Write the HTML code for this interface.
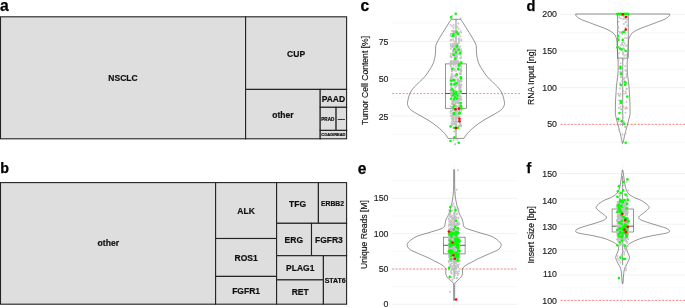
<!DOCTYPE html>
<html lang="en"><head><meta charset="utf-8"><title>Figure</title>
<style>html,body{margin:0;padding:0;background:#fff;}body{width:685px;height:308px;overflow:hidden;}svg{display:block;}text{font-family:"Liberation Sans", Arial, Helvetica, sans-serif;filter:grayscale(1);}.pl{font-weight:bold;font-size:15.8px;fill:#000;stroke:#000;stroke-width:0.25;}.tm rect{fill:#dedede;stroke:#222;stroke-width:1.1;}.tl{font-weight:bold;fill:#111;text-anchor:middle;stroke:#111;stroke-width:0.2;}.gM{stroke:#ebebeb;stroke-width:0.7;}.gm{stroke:#f2f2f2;stroke-width:0.5;}.ax{font-size:8.8px;fill:#1c1c1c;text-anchor:end;stroke:#1c1c1c;stroke-width:0.15;}.at{font-size:8.6px;fill:#111;text-anchor:middle;stroke:#111;stroke-width:0.15;}.vio{fill:none;stroke:#3a3a3a;stroke-width:0.55;}.box{fill:none;stroke:#6a6a6a;stroke-width:0.7;}.thr{stroke:#ff1a1a;stroke-width:0.5;stroke-dasharray:1.9 1.6;}.dg{fill:#c0c0c0;fill-opacity:0.92;}.gr{fill:#00ff00;}.rd{fill:#ff0000;}</style></head><body>
<svg width="685" height="308" viewBox="0 0 685 308">
<rect x="0" y="0" width="685" height="308" fill="#fff"/>
<text class="pl" x="0.0" y="10.5" style="font-size:15.6px">a</text>
<text class="pl" x="0.3" y="173.2" style="font-size:14.3px">b</text>
<text class="pl" x="360.4" y="10.5" style="font-size:15.6px">c</text>
<text class="pl" x="526.5" y="10.5" style="font-size:14.6px">d</text>
<text class="pl" x="357.8" y="173.5" style="font-size:15.6px">e</text>
<text class="pl" x="526.6" y="173.0" style="font-size:14.3px">f</text>
<g class="tm">
<rect x="0.5" y="16.8" width="245.1" height="122.0"/>
<rect x="245.6" y="16.8" width="101.0" height="72.6"/>
<rect x="245.6" y="89.4" width="74.6" height="49.4"/>
<rect x="320.2" y="89.4" width="26.4" height="17.9"/>
<rect x="320.2" y="107.3" width="15.9" height="23.1"/>
<rect x="336.1" y="107.3" width="10.5" height="23.1"/>
<rect x="320.2" y="130.4" width="26.4" height="8.4"/>
</g>
<text class="tl" x="123.0" y="81.3" font-size="8.5">NSCLC</text>
<text class="tl" x="296.1" y="56.6" font-size="8.5">CUP</text>
<text class="tl" x="282.9" y="117.9" font-size="8.5">other</text>
<text class="tl" x="333.4" y="101.9" font-size="8.5">PAAD</text>
<text class="tl" x="327.8" y="120.9" font-size="4.6">PRAD</text>
<text class="tl" x="341.4" y="119.8" font-size="1.6">OVARIAN</text>
<text class="tl" x="333.4" y="136.4" font-size="4.0">COAD/READ</text>
<g class="tm">
<rect x="0.5" y="182.6" width="215.1" height="121.6"/>
<rect x="215.6" y="182.6" width="61.0" height="55.9"/>
<rect x="215.6" y="238.5" width="61.0" height="37.9"/>
<rect x="215.6" y="276.4" width="61.0" height="27.8"/>
<rect x="276.6" y="182.6" width="41.8" height="40.7"/>
<rect x="318.4" y="182.6" width="28.2" height="40.7"/>
<rect x="276.6" y="223.3" width="34.9" height="32.4"/>
<rect x="311.5" y="223.3" width="35.1" height="32.4"/>
<rect x="276.6" y="255.7" width="46.8" height="24.2"/>
<rect x="276.6" y="279.9" width="46.8" height="24.3"/>
<rect x="323.4" y="255.7" width="23.2" height="48.5"/>
</g>
<text class="tl" x="108.3" y="245.7" font-size="8.6">other</text>
<text class="tl" x="246.1" y="214.1" font-size="8.5">ALK</text>
<text class="tl" x="246.1" y="260.7" font-size="8.5">ROS1</text>
<text class="tl" x="246.1" y="294.0" font-size="8.5">FGFR1</text>
<text class="tl" x="297.5" y="206.5" font-size="8.5">TFG</text>
<text class="tl" x="332.5" y="205.9" font-size="6.8">ERBB2</text>
<text class="tl" x="293.8" y="242.8" font-size="8.5">ERG</text>
<text class="tl" x="328.9" y="242.8" font-size="8.5">FGFR3</text>
<text class="tl" x="300.2" y="271.3" font-size="8.5">PLAG1</text>
<text class="tl" x="300.2" y="295.4" font-size="8.5">RET</text>
<text class="tl" x="335.2" y="282.6" font-size="7.0">STAT6</text>
<g id="pc">
<line class="gm" x1="391.8" x2="520.0" y1="22.83" y2="22.83"/>
<line class="gm" x1="391.8" x2="520.0" y1="60.08" y2="60.08"/>
<line class="gm" x1="391.8" x2="520.0" y1="97.33" y2="97.33"/>
<line class="gm" x1="391.8" x2="520.0" y1="134.57" y2="134.57"/>
<line class="gM" x1="391.8" x2="520.0" y1="41.45" y2="41.45"/>
<line class="gM" x1="391.8" x2="520.0" y1="78.70" y2="78.70"/>
<line class="gM" x1="391.8" x2="520.0" y1="115.95" y2="115.95"/>
<line class="gM" style="stroke:#f0f0f0" x1="456.00" x2="456.00" y1="7.0" y2="150.2"/>
<text class="ax" x="388.5" y="45.20">75</text>
<text class="ax" x="388.5" y="82.45">50</text>
<text class="ax" x="388.5" y="119.70">25</text>
<text class="at" transform="translate(367.8 80.4) rotate(-90)">Tumor Cell Content [%]</text>
<path class="vio" d="M451.20 19.30 C450.60 20.25 448.83 23.05 447.60 25.00 C446.37 26.95 445.10 28.92 443.80 31.00 C442.50 33.08 440.97 35.50 439.80 37.50 C438.63 39.50 437.48 41.50 436.80 43.00 C436.12 44.50 435.93 44.67 435.70 46.50 C435.47 48.33 435.75 51.33 435.40 54.00 C435.05 56.67 434.58 59.83 433.60 62.50 C432.62 65.17 431.02 67.58 429.50 70.00 C427.98 72.42 426.17 75.00 424.50 77.00 C422.83 79.00 421.20 80.33 419.50 82.00 C417.80 83.67 415.77 85.33 414.30 87.00 C412.83 88.67 411.62 90.42 410.70 92.00 C409.78 93.58 409.33 94.58 408.80 96.50 C408.27 98.42 407.52 101.75 407.50 103.50 C407.48 105.25 408.05 105.87 408.70 107.00 C409.35 108.13 409.68 108.97 411.40 110.30 C413.12 111.63 416.03 113.26 419.00 115.00 C421.97 116.74 426.07 118.75 429.20 120.75 C432.33 122.75 435.25 124.92 437.80 127.00 C440.35 129.08 442.78 131.35 444.50 133.25 C446.22 135.15 447.50 137.54 448.10 138.40 L463.90 138.40 C464.50 137.54 465.78 135.15 467.50 133.25 C469.22 131.35 471.65 129.08 474.20 127.00 C476.75 124.92 479.67 122.75 482.80 120.75 C485.93 118.75 490.03 116.74 493.00 115.00 C495.97 113.26 498.88 111.63 500.60 110.30 C502.32 108.97 502.65 108.13 503.30 107.00 C503.95 105.87 504.52 105.25 504.50 103.50 C504.48 101.75 503.73 98.42 503.20 96.50 C502.67 94.58 502.22 93.58 501.30 92.00 C500.38 90.42 499.17 88.67 497.70 87.00 C496.23 85.33 494.20 83.67 492.50 82.00 C490.80 80.33 489.17 79.00 487.50 77.00 C485.83 75.00 484.02 72.42 482.50 70.00 C480.98 67.58 479.38 65.17 478.40 62.50 C477.42 59.83 476.95 56.67 476.60 54.00 C476.25 51.33 476.53 48.33 476.30 46.50 C476.07 44.67 475.88 44.50 475.20 43.00 C474.52 41.50 473.37 39.50 472.20 37.50 C471.03 35.50 469.50 33.08 468.20 31.00 C466.90 28.92 465.63 26.95 464.40 25.00 C463.17 23.05 461.40 20.25 460.80 19.30 Z"/>
<line class="thr" x1="392.1" x2="520.0" y1="93.60" y2="93.60"/>
<line class="box" x1="456.00" x2="456.00" y1="19.30" y2="63.90"/>
<line class="box" x1="456.00" x2="456.00" y1="108.30" y2="138.40"/>
<rect class="box" x="445.40" y="63.90" width="21.10" height="44.40"/>
<line class="box" style="stroke:#3c3c3c;stroke-width:0.85" x1="445.40" x2="466.50" y1="93.50" y2="93.50"/>
<circle class="dg" cx="457.7" cy="68.9" r="0.95"/>
<circle class="dg" cx="454.5" cy="41.7" r="0.95"/>
<circle class="dg" cx="450.8" cy="34.0" r="0.95"/>
<circle class="dg" cx="451.4" cy="75.9" r="0.95"/>
<circle class="dg" cx="451.8" cy="80.9" r="0.95"/>
<circle class="dg" cx="461.0" cy="57.2" r="0.95"/>
<circle class="dg" cx="461.3" cy="92.9" r="0.95"/>
<circle class="dg" cx="453.6" cy="36.4" r="0.95"/>
<circle class="dg" cx="453.9" cy="46.4" r="0.95"/>
<circle class="dg" cx="456.9" cy="106.4" r="0.95"/>
<circle class="dg" cx="456.5" cy="92.8" r="0.95"/>
<circle class="dg" cx="452.7" cy="31.1" r="0.95"/>
<circle class="dg" cx="453.9" cy="100.6" r="0.95"/>
<circle class="dg" cx="453.8" cy="93.3" r="0.95"/>
<circle class="dg" cx="453.1" cy="109.8" r="0.95"/>
<circle class="dg" cx="460.2" cy="93.8" r="0.95"/>
<circle class="dg" cx="461.4" cy="99.7" r="0.95"/>
<circle class="dg" cx="458.9" cy="40.9" r="0.95"/>
<circle class="dg" cx="450.8" cy="48.8" r="0.95"/>
<circle class="dg" cx="456.8" cy="102.8" r="0.95"/>
<circle class="dg" cx="458.2" cy="114.7" r="0.95"/>
<circle class="dg" cx="455.5" cy="94.1" r="0.95"/>
<circle class="dg" cx="455.7" cy="118.9" r="0.95"/>
<circle class="dg" cx="458.3" cy="98.2" r="0.95"/>
<circle class="dg" cx="459.6" cy="96.9" r="0.95"/>
<circle class="dg" cx="457.9" cy="63.0" r="0.95"/>
<circle class="dg" cx="452.3" cy="26.3" r="0.95"/>
<circle class="dg" cx="459.0" cy="38.5" r="0.95"/>
<circle class="dg" cx="454.8" cy="47.2" r="0.95"/>
<circle class="dg" cx="455.4" cy="113.2" r="0.95"/>
<circle class="dg" cx="459.6" cy="88.7" r="0.95"/>
<circle class="dg" cx="455.1" cy="114.5" r="0.95"/>
<circle class="dg" cx="461.1" cy="73.8" r="0.95"/>
<circle class="dg" cx="453.0" cy="46.8" r="0.95"/>
<circle class="dg" cx="457.0" cy="56.3" r="0.95"/>
<circle class="dg" cx="455.1" cy="60.5" r="0.95"/>
<circle class="dg" cx="461.1" cy="71.7" r="0.95"/>
<circle class="dg" cx="457.3" cy="101.2" r="0.95"/>
<circle class="dg" cx="460.5" cy="98.1" r="0.95"/>
<circle class="dg" cx="459.3" cy="111.0" r="0.95"/>
<circle class="dg" cx="451.6" cy="70.6" r="0.95"/>
<circle class="dg" cx="451.2" cy="90.7" r="0.95"/>
<circle class="dg" cx="454.2" cy="54.1" r="0.95"/>
<circle class="dg" cx="452.1" cy="30.7" r="0.95"/>
<circle class="dg" cx="450.7" cy="40.5" r="0.95"/>
<circle class="dg" cx="452.1" cy="116.7" r="0.95"/>
<circle class="dg" cx="454.5" cy="62.8" r="0.95"/>
<circle class="dg" cx="461.5" cy="51.2" r="0.95"/>
<circle class="dg" cx="451.4" cy="78.6" r="0.95"/>
<circle class="dg" cx="453.4" cy="40.4" r="0.95"/>
<circle class="dg" cx="450.7" cy="106.3" r="0.95"/>
<circle class="dg" cx="452.0" cy="123.6" r="0.95"/>
<circle class="dg" cx="456.3" cy="83.0" r="0.95"/>
<circle class="dg" cx="458.2" cy="125.8" r="0.95"/>
<circle class="dg" cx="452.3" cy="62.9" r="0.95"/>
<circle class="dg" cx="459.1" cy="108.7" r="0.95"/>
<circle class="dg" cx="459.5" cy="69.4" r="0.95"/>
<circle class="dg" cx="459.4" cy="125.7" r="0.95"/>
<circle class="dg" cx="452.9" cy="110.1" r="0.95"/>
<circle class="dg" cx="450.7" cy="85.2" r="0.95"/>
<circle class="dg" cx="453.3" cy="32.5" r="0.95"/>
<circle class="dg" cx="455.4" cy="104.1" r="0.95"/>
<circle class="dg" cx="461.1" cy="126.6" r="0.95"/>
<circle class="dg" cx="452.9" cy="69.4" r="0.95"/>
<circle class="dg" cx="457.4" cy="54.4" r="0.95"/>
<circle class="dg" cx="455.8" cy="118.2" r="0.95"/>
<circle class="dg" cx="451.3" cy="95.6" r="0.95"/>
<circle class="dg" cx="459.2" cy="103.8" r="0.95"/>
<circle class="dg" cx="452.4" cy="100.9" r="0.95"/>
<circle class="dg" cx="459.4" cy="107.4" r="0.95"/>
<circle class="dg" cx="454.9" cy="122.7" r="0.95"/>
<circle class="dg" cx="452.3" cy="124.9" r="0.95"/>
<circle class="dg" cx="460.5" cy="46.6" r="0.95"/>
<circle class="dg" cx="459.7" cy="106.2" r="0.95"/>
<circle class="dg" cx="454.3" cy="124.4" r="0.95"/>
<circle class="dg" cx="450.6" cy="83.7" r="0.95"/>
<circle class="dg" cx="456.3" cy="124.4" r="0.95"/>
<circle class="dg" cx="460.2" cy="123.0" r="0.95"/>
<circle class="dg" cx="453.2" cy="106.6" r="0.95"/>
<circle class="dg" cx="457.0" cy="62.1" r="0.95"/>
<circle class="dg" cx="451.9" cy="63.3" r="0.95"/>
<circle class="dg" cx="455.5" cy="115.0" r="0.95"/>
<circle class="dg" cx="455.1" cy="96.3" r="0.95"/>
<circle class="dg" cx="456.4" cy="116.0" r="0.95"/>
<circle class="dg" cx="455.3" cy="83.0" r="0.95"/>
<circle class="dg" cx="459.4" cy="53.1" r="0.95"/>
<circle class="dg" cx="458.5" cy="48.7" r="0.95"/>
<circle class="dg" cx="456.2" cy="85.0" r="0.95"/>
<circle class="dg" cx="451.6" cy="88.0" r="0.95"/>
<circle class="dg" cx="453.5" cy="84.5" r="0.95"/>
<circle class="dg" cx="456.7" cy="108.6" r="0.95"/>
<circle class="dg" cx="455.4" cy="111.2" r="0.95"/>
<circle class="dg" cx="456.1" cy="93.6" r="0.95"/>
<circle class="dg" cx="456.4" cy="100.7" r="0.95"/>
<circle class="dg" cx="458.2" cy="81.6" r="0.95"/>
<circle class="dg" cx="453.3" cy="118.9" r="0.95"/>
<circle class="dg" cx="459.8" cy="89.1" r="0.95"/>
<circle class="dg" cx="455.4" cy="46.4" r="0.95"/>
<circle class="dg" cx="451.2" cy="39.7" r="0.95"/>
<circle class="dg" cx="460.4" cy="102.9" r="0.95"/>
<circle class="dg" cx="457.8" cy="50.3" r="0.95"/>
<circle class="dg" cx="461.2" cy="51.4" r="0.95"/>
<circle class="dg" cx="454.9" cy="59.3" r="0.95"/>
<circle class="dg" cx="459.7" cy="89.4" r="0.95"/>
<circle class="dg" cx="456.2" cy="48.4" r="0.95"/>
<circle class="dg" cx="454.0" cy="69.2" r="0.95"/>
<circle class="dg" cx="456.6" cy="97.9" r="0.95"/>
<circle class="dg" cx="454.1" cy="75.5" r="0.95"/>
<circle class="dg" cx="451.1" cy="93.7" r="0.95"/>
<circle class="dg" cx="461.3" cy="125.3" r="0.95"/>
<circle class="dg" cx="450.8" cy="39.9" r="0.95"/>
<circle class="dg" cx="451.9" cy="107.0" r="0.95"/>
<circle class="dg" cx="459.6" cy="81.4" r="0.95"/>
<circle class="dg" cx="460.7" cy="61.5" r="0.95"/>
<circle class="dg" cx="451.4" cy="94.9" r="0.95"/>
<circle class="dg" cx="455.2" cy="35.2" r="0.95"/>
<circle class="dg" cx="457.5" cy="44.3" r="0.95"/>
<circle class="dg" cx="460.0" cy="105.8" r="0.95"/>
<circle class="dg" cx="455.5" cy="36.4" r="0.95"/>
<circle class="dg" cx="460.8" cy="71.6" r="0.95"/>
<circle class="dg" cx="456.3" cy="61.4" r="0.95"/>
<circle class="dg" cx="452.2" cy="53.8" r="0.95"/>
<circle class="dg" cx="453.9" cy="32.0" r="0.95"/>
<circle class="dg" cx="453.6" cy="65.5" r="0.95"/>
<circle class="dg" cx="454.3" cy="84.0" r="0.95"/>
<circle class="dg" cx="450.6" cy="24.9" r="0.95"/>
<circle class="dg" cx="452.5" cy="101.4" r="0.95"/>
<circle class="dg" cx="451.6" cy="81.6" r="0.95"/>
<circle class="dg" cx="455.9" cy="108.1" r="0.95"/>
<circle class="dg" cx="456.1" cy="107.8" r="0.95"/>
<circle class="dg" cx="454.2" cy="104.2" r="0.95"/>
<circle class="dg" cx="457.5" cy="109.9" r="0.95"/>
<circle class="dg" cx="451.0" cy="77.7" r="0.95"/>
<circle class="dg" cx="458.7" cy="46.1" r="0.95"/>
<circle class="dg" cx="451.3" cy="61.6" r="0.95"/>
<circle class="dg" cx="457.9" cy="118.4" r="0.95"/>
<circle class="dg" cx="453.7" cy="62.1" r="0.95"/>
<circle class="dg" cx="455.4" cy="76.4" r="0.95"/>
<circle class="dg" cx="461.3" cy="66.8" r="0.95"/>
<circle class="dg" cx="461.2" cy="84.5" r="0.95"/>
<circle class="dg" cx="450.4" cy="62.9" r="0.95"/>
<circle class="dg" cx="456.0" cy="71.1" r="0.95"/>
<circle class="dg" cx="450.5" cy="56.4" r="0.95"/>
<circle class="dg" cx="454.9" cy="61.1" r="0.95"/>
<circle class="dg" cx="453.8" cy="30.8" r="0.95"/>
<circle class="dg" cx="456.3" cy="56.9" r="0.95"/>
<circle class="dg" cx="458.4" cy="102.1" r="0.95"/>
<circle class="dg" cx="454.1" cy="115.2" r="0.95"/>
<circle class="dg" cx="458.5" cy="121.1" r="0.95"/>
<circle class="dg" cx="459.8" cy="90.6" r="0.95"/>
<circle class="dg" cx="458.6" cy="116.8" r="0.95"/>
<circle class="dg" cx="456.3" cy="106.1" r="0.95"/>
<circle class="dg" cx="459.4" cy="88.4" r="0.95"/>
<circle class="dg" cx="460.4" cy="109.1" r="0.95"/>
<circle class="dg" cx="453.0" cy="102.3" r="0.95"/>
<circle class="dg" cx="454.4" cy="31.6" r="0.95"/>
<circle class="dg" cx="456.7" cy="43.7" r="0.95"/>
<circle class="dg" cx="458.0" cy="94.4" r="0.95"/>
<circle class="dg" cx="459.3" cy="82.9" r="0.95"/>
<circle class="dg" cx="456.4" cy="101.1" r="0.95"/>
<circle class="dg" cx="458.7" cy="90.7" r="0.95"/>
<circle class="dg" cx="453.4" cy="61.0" r="0.95"/>
<circle class="dg" cx="458.7" cy="99.1" r="0.95"/>
<circle class="dg" cx="454.7" cy="123.4" r="0.95"/>
<circle class="dg" cx="459.0" cy="87.4" r="0.95"/>
<circle class="dg" cx="451.3" cy="94.5" r="0.95"/>
<circle class="dg" cx="458.7" cy="47.3" r="0.95"/>
<circle class="dg" cx="450.5" cy="64.2" r="0.95"/>
<circle class="dg" cx="457.9" cy="32.5" r="0.95"/>
<circle class="dg" cx="453.7" cy="102.2" r="0.95"/>
<circle class="dg" cx="455.6" cy="85.9" r="0.95"/>
<circle class="dg" cx="452.6" cy="44.0" r="0.95"/>
<circle class="dg" cx="450.6" cy="126.3" r="0.95"/>
<circle class="dg" cx="461.2" cy="80.8" r="0.95"/>
<circle class="dg" cx="452.8" cy="77.2" r="0.95"/>
<circle class="dg" cx="456.9" cy="121.5" r="0.95"/>
<circle class="dg" cx="461.1" cy="49.1" r="0.95"/>
<circle class="dg" cx="456.1" cy="51.0" r="0.95"/>
<circle class="dg" cx="453.0" cy="117.3" r="0.95"/>
<circle class="dg" cx="450.7" cy="115.9" r="0.95"/>
<circle class="dg" cx="455.4" cy="26.5" r="0.95"/>
<circle class="dg" cx="454.3" cy="61.4" r="0.95"/>
<circle class="dg" cx="450.4" cy="66.0" r="0.95"/>
<circle class="dg" cx="451.7" cy="103.3" r="0.95"/>
<circle class="dg" cx="460.5" cy="124.8" r="0.95"/>
<circle class="dg" cx="454.8" cy="63.0" r="0.95"/>
<circle class="dg" cx="454.4" cy="131.4" r="0.95"/>
<circle class="dg" cx="450.9" cy="77.2" r="0.95"/>
<circle class="dg" cx="453.6" cy="43.7" r="0.95"/>
<circle class="dg" cx="453.4" cy="121.7" r="0.95"/>
<circle class="dg" cx="454.6" cy="84.1" r="0.95"/>
<circle class="dg" cx="459.5" cy="125.9" r="0.95"/>
<circle class="dg" cx="460.9" cy="96.3" r="0.95"/>
<circle class="dg" cx="451.0" cy="87.6" r="0.95"/>
<circle class="dg" cx="458.8" cy="100.7" r="0.95"/>
<circle class="dg" cx="450.9" cy="92.2" r="0.95"/>
<circle class="dg" cx="455.7" cy="120.9" r="0.95"/>
<circle class="dg" cx="458.7" cy="69.9" r="0.95"/>
<circle class="dg" cx="457.7" cy="121.8" r="0.95"/>
<circle class="dg" cx="454.8" cy="64.2" r="0.95"/>
<circle class="dg" cx="452.7" cy="46.7" r="0.95"/>
<circle class="dg" cx="452.9" cy="115.9" r="0.95"/>
<circle class="dg" cx="455.4" cy="119.2" r="0.95"/>
<circle class="dg" cx="451.4" cy="46.9" r="0.95"/>
<circle class="dg" cx="453.1" cy="68.6" r="0.95"/>
<circle class="dg" cx="460.3" cy="64.3" r="0.95"/>
<circle class="dg" cx="455.0" cy="100.5" r="0.95"/>
<circle class="dg" cx="454.2" cy="85.3" r="0.95"/>
<circle class="dg" cx="461.2" cy="32.5" r="0.95"/>
<circle class="dg" cx="457.5" cy="48.9" r="0.95"/>
<circle class="dg" cx="453.4" cy="114.1" r="0.95"/>
<circle class="dg" cx="455.4" cy="63.1" r="0.95"/>
<circle class="dg" cx="460.2" cy="125.7" r="0.95"/>
<circle class="dg" cx="458.3" cy="23.5" r="0.95"/>
<circle class="dg" cx="457.0" cy="115.8" r="0.95"/>
<circle class="dg" cx="460.8" cy="18.4" r="0.95"/>
<circle class="dg" cx="461.3" cy="110.8" r="0.95"/>
<circle class="dg" cx="452.1" cy="61.2" r="0.95"/>
<circle class="dg" cx="460.9" cy="87.4" r="0.95"/>
<circle class="dg" cx="459.0" cy="102.0" r="0.95"/>
<circle class="dg" cx="450.8" cy="79.0" r="0.95"/>
<circle class="dg" cx="460.7" cy="106.7" r="0.95"/>
<circle class="dg" cx="451.8" cy="92.3" r="0.95"/>
<circle class="dg" cx="458.2" cy="64.7" r="0.95"/>
<circle class="dg" cx="456.3" cy="38.6" r="0.95"/>
<circle class="dg" cx="452.9" cy="92.9" r="0.95"/>
<circle class="dg" cx="453.8" cy="90.4" r="0.95"/>
<circle class="dg" cx="457.6" cy="81.7" r="0.95"/>
<circle class="dg" cx="453.0" cy="115.8" r="0.95"/>
<circle class="dg" cx="458.3" cy="66.8" r="0.95"/>
<circle class="dg" cx="456.0" cy="60.6" r="0.95"/>
<circle class="dg" cx="453.3" cy="100.5" r="0.95"/>
<circle class="dg" cx="452.9" cy="103.9" r="0.95"/>
<circle class="dg" cx="455.1" cy="32.9" r="0.95"/>
<circle class="dg" cx="459.3" cy="99.1" r="0.95"/>
<circle class="dg" cx="452.7" cy="101.1" r="0.95"/>
<circle class="dg" cx="459.6" cy="122.2" r="0.95"/>
<circle class="dg" cx="458.9" cy="54.5" r="0.95"/>
<circle class="dg" cx="456.0" cy="66.8" r="0.95"/>
<circle class="dg" cx="455.1" cy="54.5" r="0.95"/>
<circle class="dg" cx="452.0" cy="104.0" r="0.95"/>
<circle class="dg" cx="461.3" cy="76.8" r="0.95"/>
<circle class="dg" cx="451.1" cy="45.9" r="0.95"/>
<circle class="dg" cx="460.3" cy="73.9" r="0.95"/>
<circle class="dg" cx="460.8" cy="104.3" r="0.95"/>
<circle class="dg" cx="460.9" cy="69.2" r="0.95"/>
<circle class="dg" cx="457.8" cy="98.0" r="0.95"/>
<circle class="dg" cx="454.1" cy="70.4" r="0.95"/>
<circle class="dg" cx="453.5" cy="45.6" r="0.95"/>
<circle class="dg" cx="451.8" cy="74.3" r="0.95"/>
<circle class="dg" cx="454.4" cy="121.5" r="0.95"/>
<circle class="dg" cx="455.2" cy="110.6" r="0.95"/>
<circle class="dg" cx="454.6" cy="33.8" r="0.95"/>
<circle class="dg" cx="454.5" cy="113.9" r="0.95"/>
<circle class="dg" cx="455.0" cy="112.8" r="0.95"/>
<circle class="dg" cx="450.9" cy="110.3" r="0.95"/>
<circle class="dg" cx="460.7" cy="31.1" r="0.95"/>
<circle class="dg" cx="460.5" cy="65.4" r="0.95"/>
<circle class="dg" cx="461.1" cy="69.7" r="0.95"/>
<circle class="dg" cx="458.4" cy="92.0" r="0.95"/>
<circle class="dg" cx="450.4" cy="62.3" r="0.95"/>
<circle class="dg" cx="457.5" cy="111.2" r="0.95"/>
<circle class="dg" cx="453.0" cy="120.3" r="0.95"/>
<circle class="dg" cx="461.1" cy="81.7" r="0.95"/>
<circle class="dg" cx="455.2" cy="69.6" r="0.95"/>
<circle class="dg" cx="452.4" cy="89.0" r="0.95"/>
<circle class="dg" cx="459.6" cy="110.1" r="0.95"/>
<circle class="dg" cx="454.1" cy="109.2" r="0.95"/>
<circle class="dg" cx="459.2" cy="70.3" r="0.95"/>
<circle class="dg" cx="458.8" cy="39.5" r="0.95"/>
<circle class="dg" cx="450.8" cy="60.9" r="0.95"/>
<circle class="dg" cx="461.4" cy="85.0" r="0.95"/>
<circle class="dg" cx="453.4" cy="119.2" r="0.95"/>
<circle class="dg" cx="456.0" cy="38.8" r="0.95"/>
<circle class="dg" cx="453.0" cy="100.7" r="0.95"/>
<circle class="dg" cx="458.0" cy="79.5" r="0.95"/>
<circle class="dg" cx="457.8" cy="103.3" r="0.95"/>
<circle class="dg" cx="453.7" cy="51.1" r="0.95"/>
<circle class="dg" cx="458.7" cy="85.3" r="0.95"/>
<circle class="dg" cx="453.1" cy="54.7" r="0.95"/>
<circle class="dg" cx="456.9" cy="51.4" r="0.95"/>
<circle class="dg" cx="461.5" cy="70.6" r="0.95"/>
<circle class="dg" cx="459.5" cy="84.4" r="0.95"/>
<circle class="dg" cx="451.5" cy="96.8" r="0.95"/>
<circle class="dg" cx="459.8" cy="80.8" r="0.95"/>
<circle class="dg" cx="453.7" cy="112.9" r="0.95"/>
<circle class="dg" cx="461.3" cy="39.4" r="0.95"/>
<circle class="dg" cx="454.6" cy="96.4" r="0.95"/>
<circle class="dg" cx="453.3" cy="115.6" r="0.95"/>
<circle class="dg" cx="451.6" cy="111.4" r="0.95"/>
<circle class="dg" cx="452.8" cy="94.4" r="0.95"/>
<circle class="dg" cx="452.7" cy="68.9" r="0.95"/>
<circle class="dg" cx="457.7" cy="64.5" r="0.95"/>
<circle class="dg" cx="454.1" cy="53.1" r="0.95"/>
<circle class="dg" cx="453.9" cy="99.0" r="0.95"/>
<circle class="dg" cx="456.5" cy="58.3" r="0.95"/>
<circle class="dg" cx="454.8" cy="31.4" r="0.95"/>
<circle class="dg" cx="451.4" cy="87.1" r="0.95"/>
<circle class="dg" cx="455.0" cy="50.2" r="0.95"/>
<circle class="dg" cx="461.1" cy="62.5" r="0.95"/>
<circle class="dg" cx="454.4" cy="64.2" r="0.95"/>
<circle class="dg" cx="461.6" cy="81.1" r="0.95"/>
<circle class="dg" cx="458.6" cy="69.3" r="0.95"/>
<circle class="dg" cx="460.5" cy="53.1" r="0.95"/>
<circle class="dg" cx="454.9" cy="80.8" r="0.95"/>
<circle class="dg" cx="452.2" cy="115.7" r="0.95"/>
<circle class="dg" cx="457.6" cy="26.9" r="0.95"/>
<circle class="dg" cx="457.4" cy="113.2" r="0.95"/>
<circle class="dg" cx="452.0" cy="71.3" r="0.95"/>
<circle class="dg" cx="460.8" cy="63.9" r="0.95"/>
<circle class="dg" cx="459.4" cy="41.4" r="0.95"/>
<circle class="dg" cx="451.8" cy="121.4" r="0.95"/>
<circle class="dg" cx="455.8" cy="126.5" r="0.95"/>
<circle class="dg" cx="454.7" cy="36.8" r="0.95"/>
<circle class="dg" cx="459.6" cy="116.7" r="0.95"/>
<circle class="dg" cx="452.9" cy="50.8" r="0.95"/>
<circle class="dg" cx="459.7" cy="81.0" r="0.95"/>
<circle class="dg" cx="454.9" cy="54.5" r="0.95"/>
<circle class="dg" cx="451.8" cy="85.4" r="0.95"/>
<circle class="dg" cx="460.4" cy="65.3" r="0.95"/>
<circle class="dg" cx="458.9" cy="34.4" r="0.95"/>
<circle class="dg" cx="451.7" cy="36.2" r="0.95"/>
<circle class="dg" cx="457.4" cy="93.9" r="0.95"/>
<circle class="dg" cx="456.9" cy="63.3" r="0.95"/>
<circle class="dg" cx="455.4" cy="79.7" r="0.95"/>
<circle class="dg" cx="457.3" cy="75.6" r="0.95"/>
<circle class="dg" cx="459.0" cy="84.4" r="0.95"/>
<circle class="dg" cx="452.4" cy="108.2" r="0.95"/>
<circle class="dg" cx="451.8" cy="76.1" r="0.95"/>
<circle class="dg" cx="455.4" cy="76.0" r="0.95"/>
<circle class="dg" cx="457.5" cy="83.1" r="0.95"/>
<circle class="dg" cx="459.1" cy="43.0" r="0.95"/>
<circle class="dg" cx="456.0" cy="83.2" r="0.95"/>
<circle class="dg" cx="451.9" cy="74.2" r="0.95"/>
<circle class="dg" cx="458.6" cy="119.2" r="0.95"/>
<circle class="dg" cx="461.4" cy="106.5" r="0.95"/>
<circle class="dg" cx="460.7" cy="89.2" r="0.95"/>
<circle class="dg" cx="460.8" cy="50.8" r="0.95"/>
<circle class="dg" cx="458.9" cy="33.0" r="0.95"/>
<circle class="dg" cx="453.5" cy="51.5" r="0.95"/>
<circle class="dg" cx="456.0" cy="106.1" r="0.95"/>
<circle class="dg" cx="453.3" cy="121.5" r="0.95"/>
<circle class="dg" cx="450.8" cy="85.0" r="0.95"/>
<circle class="dg" cx="460.9" cy="54.1" r="0.95"/>
<circle class="dg" cx="452.3" cy="103.7" r="0.95"/>
<circle class="dg" cx="456.3" cy="106.0" r="0.95"/>
<circle class="dg" cx="460.2" cy="92.7" r="0.95"/>
<circle class="dg" cx="460.3" cy="86.7" r="0.95"/>
<circle class="dg" cx="457.5" cy="44.7" r="0.95"/>
<circle class="dg" cx="453.4" cy="80.7" r="0.95"/>
<circle class="dg" cx="454.4" cy="131.4" r="0.95"/>
<circle class="dg" cx="452.4" cy="108.1" r="0.95"/>
<circle class="dg" cx="459.6" cy="98.1" r="0.95"/>
<circle class="dg" cx="461.4" cy="64.7" r="0.95"/>
<circle class="dg" cx="453.9" cy="94.7" r="0.95"/>
<circle class="dg" cx="452.1" cy="16.0" r="0.95"/>
<circle class="dg" cx="456.1" cy="93.2" r="0.95"/>
<circle class="dg" cx="452.9" cy="113.5" r="0.95"/>
<circle class="dg" cx="450.4" cy="90.4" r="0.95"/>
<circle class="dg" cx="454.4" cy="68.7" r="0.95"/>
<circle class="dg" cx="457.0" cy="56.9" r="0.95"/>
<circle class="dg" cx="455.7" cy="57.2" r="0.95"/>
<circle class="dg" cx="453.1" cy="51.8" r="0.95"/>
<circle class="dg" cx="457.5" cy="46.2" r="0.95"/>
<circle class="dg" cx="454.9" cy="117.8" r="0.95"/>
<circle class="dg" cx="457.6" cy="60.6" r="0.95"/>
<circle class="dg" cx="457.6" cy="85.2" r="0.95"/>
<circle class="dg" cx="458.6" cy="81.6" r="0.95"/>
<circle class="dg" cx="450.9" cy="66.5" r="0.95"/>
<circle class="dg" cx="453.1" cy="85.5" r="0.95"/>
<circle class="dg" cx="450.5" cy="35.8" r="0.95"/>
<circle class="dg" cx="452.0" cy="89.1" r="0.95"/>
<circle class="dg" cx="456.1" cy="57.1" r="0.95"/>
<circle class="dg" cx="452.4" cy="95.7" r="0.95"/>
<circle class="dg" cx="450.9" cy="62.5" r="0.95"/>
<circle class="dg" cx="458.4" cy="117.8" r="0.95"/>
<circle class="dg" cx="458.7" cy="28.8" r="0.95"/>
<circle class="dg" cx="455.5" cy="80.3" r="0.95"/>
<circle class="dg" cx="453.0" cy="53.7" r="0.95"/>
<circle class="dg" cx="458.8" cy="32.9" r="0.95"/>
<circle class="dg" cx="458.4" cy="103.3" r="0.95"/>
<circle class="dg" cx="455.3" cy="64.2" r="0.95"/>
<circle class="dg" cx="453.4" cy="108.7" r="0.95"/>
<circle class="dg" cx="452.8" cy="96.7" r="0.95"/>
<circle class="dg" cx="453.3" cy="112.8" r="0.95"/>
<circle class="dg" cx="461.0" cy="58.0" r="0.95"/>
<circle class="dg" cx="460.3" cy="99.9" r="0.95"/>
<circle class="dg" cx="460.6" cy="69.5" r="0.95"/>
<circle class="dg" cx="457.9" cy="94.9" r="0.95"/>
<circle class="dg" cx="459.8" cy="123.2" r="0.95"/>
<circle class="dg" cx="455.3" cy="103.4" r="0.95"/>
<circle class="dg" cx="453.8" cy="101.5" r="0.95"/>
<circle class="dg" cx="451.3" cy="57.2" r="0.95"/>
<circle class="dg" cx="450.7" cy="113.6" r="0.95"/>
<circle class="dg" cx="454.3" cy="44.3" r="0.95"/>
<circle class="dg" cx="450.9" cy="45.8" r="0.95"/>
<circle class="dg" cx="458.2" cy="101.9" r="0.95"/>
<circle class="dg" cx="457.0" cy="98.2" r="0.95"/>
<circle class="dg" cx="459.6" cy="73.3" r="0.95"/>
<circle class="dg" cx="460.1" cy="113.1" r="0.95"/>
<circle class="dg" cx="451.6" cy="118.9" r="0.95"/>
<circle class="dg" cx="450.8" cy="53.8" r="0.95"/>
<circle class="dg" cx="457.5" cy="118.0" r="0.95"/>
<circle class="dg" cx="453.6" cy="109.4" r="0.95"/>
<circle class="dg" cx="458.9" cy="38.8" r="0.95"/>
<circle class="dg" cx="455.1" cy="55.2" r="0.95"/>
<circle class="dg" cx="453.6" cy="24.9" r="0.95"/>
<circle class="dg" cx="454.0" cy="100.2" r="0.95"/>
<circle class="dg" cx="459.9" cy="123.4" r="0.95"/>
<circle class="dg" cx="455.0" cy="90.5" r="0.95"/>
<circle class="dg" cx="454.3" cy="80.5" r="0.95"/>
<circle class="dg" cx="452.8" cy="101.3" r="0.95"/>
<circle class="dg" cx="459.6" cy="113.2" r="0.95"/>
<circle class="dg" cx="452.7" cy="45.6" r="0.95"/>
<circle class="dg" cx="450.4" cy="111.7" r="0.95"/>
<circle class="dg" cx="459.3" cy="86.1" r="0.95"/>
<circle class="dg" cx="454.3" cy="56.3" r="0.95"/>
<circle class="dg" cx="461.0" cy="106.9" r="0.95"/>
<circle class="dg" cx="458.2" cy="61.9" r="0.95"/>
<circle class="dg" cx="457.5" cy="83.6" r="0.95"/>
<circle class="dg" cx="458.2" cy="43.4" r="0.95"/>
<circle class="dg" cx="454.4" cy="109.3" r="0.95"/>
<circle class="dg" cx="460.4" cy="78.0" r="0.95"/>
<circle class="dg" cx="450.7" cy="44.0" r="0.95"/>
<circle class="dg" cx="460.5" cy="54.8" r="0.95"/>
<circle class="dg" cx="460.3" cy="85.4" r="0.95"/>
<circle class="dg" cx="456.4" cy="56.1" r="0.95"/>
<circle class="dg" cx="457.6" cy="110.2" r="0.95"/>
<circle class="dg" cx="452.1" cy="70.1" r="0.95"/>
<circle class="dg" cx="458.7" cy="117.0" r="0.95"/>
<circle class="dg" cx="459.1" cy="48.5" r="0.95"/>
<circle class="dg" cx="455.6" cy="91.1" r="0.95"/>
<circle class="dg" cx="452.5" cy="114.2" r="0.95"/>
<circle class="dg" cx="459.8" cy="65.1" r="0.95"/>
<circle class="dg" cx="453.2" cy="46.6" r="0.95"/>
<circle class="dg" cx="452.2" cy="71.4" r="0.95"/>
<circle class="dg" cx="461.3" cy="69.2" r="0.95"/>
<circle class="dg" cx="461.2" cy="98.4" r="0.95"/>
<circle class="dg" cx="461.4" cy="40.7" r="0.95"/>
<circle class="dg" cx="455.3" cy="110.0" r="0.95"/>
<circle class="dg" cx="451.6" cy="57.3" r="0.95"/>
<circle class="dg" cx="450.8" cy="55.6" r="0.95"/>
<circle class="dg" cx="458.2" cy="80.6" r="0.95"/>
<circle class="dg" cx="455.6" cy="87.0" r="0.95"/>
<circle class="dg" cx="454.9" cy="49.6" r="0.95"/>
<circle class="dg" cx="455.2" cy="103.7" r="0.95"/>
<circle class="dg" cx="455.1" cy="95.2" r="0.95"/>
<circle class="dg" cx="460.3" cy="57.8" r="0.95"/>
<circle class="dg" cx="459.9" cy="109.8" r="0.95"/>
<circle class="dg" cx="455.5" cy="102.0" r="0.95"/>
<circle class="dg" cx="451.5" cy="64.6" r="0.95"/>
<circle class="dg" cx="458.4" cy="80.6" r="0.95"/>
<circle class="dg" cx="455.1" cy="92.0" r="0.95"/>
<circle class="dg" cx="455.0" cy="79.5" r="0.95"/>
<circle class="dg" cx="452.5" cy="103.9" r="0.95"/>
<circle class="dg" cx="454.8" cy="95.4" r="0.95"/>
<circle class="dg" cx="450.8" cy="89.3" r="0.95"/>
<circle class="dg" cx="459.2" cy="83.9" r="0.95"/>
<circle class="dg" cx="451.5" cy="123.5" r="0.95"/>
<circle class="dg" cx="458.4" cy="93.9" r="0.95"/>
<circle class="dg" cx="459.7" cy="87.1" r="0.95"/>
<circle class="dg" cx="461.0" cy="85.6" r="0.95"/>
<circle class="dg" cx="454.8" cy="57.6" r="0.95"/>
<circle class="dg" cx="461.4" cy="106.0" r="0.95"/>
<circle class="dg" cx="453.5" cy="68.3" r="0.95"/>
<circle class="dg" cx="455.1" cy="75.5" r="0.95"/>
<circle class="dg" cx="454.3" cy="80.0" r="0.95"/>
<circle class="dg" cx="458.7" cy="62.0" r="0.95"/>
<circle class="dg" cx="452.9" cy="123.6" r="0.95"/>
<circle class="dg" cx="452.8" cy="107.8" r="0.95"/>
<circle class="dg" cx="459.5" cy="50.7" r="0.95"/>
<circle class="dg" cx="456.7" cy="93.4" r="0.95"/>
<circle class="dg" cx="454.4" cy="59.4" r="0.95"/>
<circle class="dg" cx="459.5" cy="95.7" r="0.95"/>
<circle class="dg" cx="456.5" cy="77.3" r="0.95"/>
<circle class="dg" cx="454.4" cy="51.1" r="0.95"/>
<circle class="dg" cx="454.6" cy="114.4" r="0.95"/>
<circle class="dg" cx="452.5" cy="63.3" r="0.95"/>
<circle class="dg" cx="453.5" cy="28.0" r="0.95"/>
<circle class="dg" cx="455.8" cy="62.5" r="0.95"/>
<circle class="dg" cx="457.8" cy="79.6" r="0.95"/>
<circle class="dg" cx="460.0" cy="74.1" r="0.95"/>
<circle class="dg" cx="460.5" cy="36.2" r="0.95"/>
<circle class="dg" cx="459.7" cy="106.1" r="0.95"/>
<circle class="dg" cx="450.5" cy="90.4" r="0.95"/>
<circle class="dg" cx="453.2" cy="124.4" r="0.95"/>
<circle class="dg" cx="453.0" cy="39.1" r="0.95"/>
<circle class="dg" cx="452.1" cy="107.5" r="0.95"/>
<circle class="dg" cx="452.3" cy="117.9" r="0.95"/>
<circle class="dg" cx="459.2" cy="116.7" r="0.95"/>
<circle class="dg" cx="459.2" cy="103.6" r="0.95"/>
<circle class="dg" cx="458.2" cy="106.5" r="0.95"/>
<circle class="dg" cx="455.3" cy="87.7" r="0.95"/>
<circle class="dg" cx="453.4" cy="116.3" r="0.95"/>
<circle class="dg" cx="455.9" cy="54.0" r="0.95"/>
<circle class="dg" cx="452.0" cy="33.8" r="0.95"/>
<circle class="dg" cx="456.4" cy="86.1" r="0.95"/>
<circle class="dg" cx="459.8" cy="112.7" r="0.95"/>
<circle class="dg" cx="457.9" cy="79.1" r="0.95"/>
<circle class="dg" cx="455.1" cy="115.1" r="0.95"/>
<circle class="dg" cx="453.6" cy="140.3" r="0.95"/>
<circle class="dg" cx="455.2" cy="143.9" r="0.95"/>
<circle class="dg" cx="457.4" cy="139.6" r="0.95"/>
<circle class="dg" cx="454.8" cy="144.6" r="0.95"/>
<circle class="gr" cx="455.8" cy="13.7" r="1.3"/>
<circle class="gr" cx="451.1" cy="17.4" r="1.3"/>
<circle class="gr" cx="456.7" cy="31.9" r="1.3"/>
<circle class="gr" cx="457.9" cy="34.0" r="1.3"/>
<circle class="gr" cx="453.4" cy="34.3" r="1.3"/>
<circle class="gr" cx="453.0" cy="36.0" r="1.3"/>
<circle class="gr" cx="457.0" cy="45.7" r="1.3"/>
<circle class="gr" cx="456.9" cy="46.6" r="1.3"/>
<circle class="gr" cx="454.2" cy="49.3" r="1.3"/>
<circle class="gr" cx="458.7" cy="49.8" r="1.3"/>
<circle class="gr" cx="456.1" cy="52.4" r="1.3"/>
<circle class="gr" cx="460.2" cy="53.1" r="1.3"/>
<circle class="gr" cx="453.7" cy="54.9" r="1.3"/>
<circle class="gr" cx="455.2" cy="58.6" r="1.3"/>
<circle class="gr" cx="461.4" cy="62.7" r="1.3"/>
<circle class="gr" cx="459.3" cy="64.1" r="1.3"/>
<circle class="gr" cx="459.0" cy="65.6" r="1.3"/>
<circle class="gr" cx="452.0" cy="68.8" r="1.3"/>
<circle class="gr" cx="458.1" cy="69.1" r="1.3"/>
<circle class="gr" cx="456.6" cy="74.4" r="1.3"/>
<circle class="gr" cx="460.8" cy="77.3" r="1.3"/>
<circle class="gr" cx="453.4" cy="79.7" r="1.3"/>
<circle class="gr" cx="450.9" cy="80.6" r="1.3"/>
<circle class="gr" cx="453.7" cy="80.3" r="1.3"/>
<circle class="gr" cx="461.0" cy="78.6" r="1.3"/>
<circle class="gr" cx="456.4" cy="83.3" r="1.3"/>
<circle class="gr" cx="451.1" cy="84.1" r="1.3"/>
<circle class="gr" cx="454.6" cy="84.1" r="1.3"/>
<circle class="gr" cx="452.0" cy="89.3" r="1.3"/>
<circle class="gr" cx="453.4" cy="90.9" r="1.3"/>
<circle class="gr" cx="456.4" cy="92.0" r="1.3"/>
<circle class="gr" cx="460.8" cy="91.5" r="1.3"/>
<circle class="gr" cx="454.0" cy="93.2" r="1.3"/>
<circle class="gr" cx="455.8" cy="94.1" r="1.3"/>
<circle class="gr" cx="453.2" cy="95.3" r="1.3"/>
<circle class="gr" cx="457.5" cy="95.8" r="1.3"/>
<circle class="gr" cx="455.2" cy="97.3" r="1.3"/>
<circle class="gr" cx="451.1" cy="98.8" r="1.3"/>
<circle class="gr" cx="454.0" cy="99.1" r="1.3"/>
<circle class="gr" cx="456.9" cy="98.8" r="1.3"/>
<circle class="gr" cx="460.8" cy="103.1" r="1.3"/>
<circle class="gr" cx="454.0" cy="105.8" r="1.3"/>
<circle class="gr" cx="461.0" cy="106.1" r="1.3"/>
<circle class="gr" cx="453.4" cy="107.8" r="1.3"/>
<circle class="gr" cx="461.6" cy="108.4" r="1.3"/>
<circle class="gr" cx="454.0" cy="113.1" r="1.3"/>
<circle class="gr" cx="459.5" cy="112.9" r="1.3"/>
<circle class="gr" cx="454.0" cy="113.9" r="1.3"/>
<circle class="gr" cx="459.5" cy="113.5" r="1.3"/>
<circle class="gr" cx="450.6" cy="126.4" r="1.3"/>
<circle class="gr" cx="454.0" cy="127.8" r="1.3"/>
<circle class="gr" cx="458.1" cy="127.8" r="1.3"/>
<circle class="gr" cx="454.4" cy="137.3" r="1.3"/>
<circle class="gr" cx="450.5" cy="141.0" r="1.3"/>
<circle class="gr" cx="458.7" cy="142.7" r="1.3"/>
<circle class="rd" cx="455.5" cy="109.3" r="1.3"/>
<circle class="rd" cx="459.0" cy="108.6" r="1.3"/>
<circle class="rd" cx="459.5" cy="118.8" r="1.3"/>
<circle class="rd" cx="459.5" cy="121.3" r="1.3"/>
<circle class="rd" cx="456.0" cy="128.1" r="1.3"/>
</g>
<g id="pd">
<line class="gm" x1="560.3" x2="685.0" y1="32.64" y2="32.64"/>
<line class="gm" x1="560.3" x2="685.0" y1="69.31" y2="69.31"/>
<line class="gm" x1="560.3" x2="685.0" y1="105.99" y2="105.99"/>
<line class="gm" x1="560.3" x2="685.0" y1="142.66" y2="142.66"/>
<line class="gM" x1="560.3" x2="685.0" y1="14.30" y2="14.30"/>
<line class="gM" x1="560.3" x2="685.0" y1="50.98" y2="50.98"/>
<line class="gM" x1="560.3" x2="685.0" y1="87.65" y2="87.65"/>
<line class="gM" x1="560.3" x2="685.0" y1="124.33" y2="124.33"/>
<line class="gM" style="stroke:#f0f0f0" x1="622.70" x2="622.70" y1="6.0" y2="150.2"/>
<text class="ax" x="557.0" y="17.45">200</text>
<text class="ax" x="557.0" y="54.13">150</text>
<text class="ax" x="557.0" y="90.80">100</text>
<text class="ax" x="557.0" y="127.48">50</text>
<text class="at" transform="translate(534.2 77.0) rotate(-90)">RNA Input [ng]</text>
<path class="vio" d="M575.70 14.00 C575.73 14.22 575.70 14.85 575.90 15.30 C576.10 15.75 575.98 15.98 576.90 16.70 C577.82 17.42 579.35 18.63 581.40 19.60 C583.45 20.57 586.60 21.52 589.20 22.50 C591.80 23.48 594.40 24.52 597.00 25.50 C599.60 26.48 602.52 27.43 604.80 28.40 C607.08 29.37 609.12 30.33 610.70 31.30 C612.28 32.27 613.37 33.07 614.30 34.20 C615.23 35.33 615.85 36.80 616.30 38.10 C616.75 39.40 616.82 40.02 617.00 42.00 C617.18 43.98 617.23 47.33 617.40 50.00 C617.57 52.67 617.87 55.33 618.00 58.00 C618.13 60.67 618.22 63.27 618.20 66.00 C618.18 68.73 618.07 72.07 617.90 74.40 C617.73 76.73 617.43 78.10 617.20 80.00 C616.97 81.90 616.72 83.30 616.50 85.80 C616.28 88.30 616.07 92.30 615.90 95.00 C615.73 97.70 615.58 99.67 615.50 102.00 C615.42 104.33 615.42 106.92 615.40 109.00 C615.38 111.08 615.18 112.68 615.40 114.50 C615.62 116.32 616.28 118.23 616.70 119.90 C617.12 121.57 617.43 122.75 617.90 124.50 C618.37 126.25 618.99 128.45 619.50 130.40 C620.01 132.35 620.52 134.25 620.95 136.20 C621.38 138.15 621.86 140.92 622.10 142.10 C622.34 143.28 622.35 143.10 622.40 143.30 L623.00 143.30 C623.05 143.10 623.06 143.28 623.30 142.10 C623.54 140.92 624.02 138.15 624.45 136.20 C624.88 134.25 625.39 132.35 625.90 130.40 C626.41 128.45 627.03 126.25 627.50 124.50 C627.97 122.75 628.28 121.57 628.70 119.90 C629.12 118.23 629.78 116.32 630.00 114.50 C630.22 112.68 630.02 111.08 630.00 109.00 C629.98 106.92 629.98 104.33 629.90 102.00 C629.82 99.67 629.67 97.70 629.50 95.00 C629.33 92.30 629.12 88.30 628.90 85.80 C628.68 83.30 628.43 81.90 628.20 80.00 C627.97 78.10 627.67 76.73 627.50 74.40 C627.33 72.07 627.22 68.73 627.20 66.00 C627.18 63.27 627.27 60.67 627.40 58.00 C627.53 55.33 627.83 52.67 628.00 50.00 C628.17 47.33 628.22 43.98 628.40 42.00 C628.58 40.02 628.65 39.40 629.10 38.10 C629.55 36.80 630.17 35.33 631.10 34.20 C632.03 33.07 633.12 32.27 634.70 31.30 C636.28 30.33 638.32 29.37 640.60 28.40 C642.88 27.43 645.80 26.48 648.40 25.50 C651.00 24.52 653.60 23.48 656.20 22.50 C658.80 21.52 661.95 20.57 664.00 19.60 C666.05 18.63 667.58 17.42 668.50 16.70 C669.42 15.98 669.30 15.75 669.50 15.30 C669.70 14.85 669.67 14.22 669.70 14.00 Z"/>
<line class="thr" x1="560.6" x2="685.0" y1="124.33" y2="124.33"/>
<line class="box" x1="622.70" x2="622.70" y1="13.90" y2="14.00"/>
<line class="box" x1="622.70" x2="622.70" y1="58.10" y2="126.00"/>
<rect class="box" x="617.35" y="14.00" width="10.85" height="44.10"/>
<line class="box" style="stroke:#3c3c3c;stroke-width:0.85" x1="617.35" x2="628.20" y1="14.20" y2="14.20"/>
<circle class="dg" cx="618.8" cy="129.8" r="0.95"/>
<circle class="dg" cx="624.0" cy="82.2" r="0.95"/>
<circle class="dg" cx="623.7" cy="16.5" r="0.95"/>
<circle class="dg" cx="626.7" cy="88.8" r="0.95"/>
<circle class="dg" cx="627.1" cy="45.2" r="0.95"/>
<circle class="dg" cx="622.6" cy="64.2" r="0.95"/>
<circle class="dg" cx="618.4" cy="119.5" r="0.95"/>
<circle class="dg" cx="623.9" cy="93.8" r="0.95"/>
<circle class="dg" cx="626.0" cy="46.0" r="0.95"/>
<circle class="dg" cx="622.5" cy="48.8" r="0.95"/>
<circle class="dg" cx="625.2" cy="66.2" r="0.95"/>
<circle class="dg" cx="622.1" cy="34.0" r="0.95"/>
<circle class="dg" cx="623.2" cy="54.0" r="0.95"/>
<circle class="dg" cx="620.8" cy="109.2" r="0.95"/>
<circle class="dg" cx="621.8" cy="109.5" r="0.95"/>
<circle class="dg" cx="620.6" cy="63.2" r="0.95"/>
<circle class="dg" cx="627.1" cy="63.5" r="0.95"/>
<circle class="dg" cx="625.4" cy="84.8" r="0.95"/>
<circle class="dg" cx="621.0" cy="45.2" r="0.95"/>
<circle class="dg" cx="623.5" cy="42.2" r="0.95"/>
<circle class="dg" cx="625.3" cy="82.0" r="0.95"/>
<circle class="dg" cx="624.7" cy="17.8" r="0.95"/>
<circle class="dg" cx="623.1" cy="117.8" r="0.95"/>
<circle class="dg" cx="620.9" cy="18.5" r="0.95"/>
<circle class="dg" cx="619.8" cy="14.5" r="0.95"/>
<circle class="dg" cx="623.7" cy="123.0" r="0.95"/>
<circle class="dg" cx="625.4" cy="85.2" r="0.95"/>
<circle class="dg" cx="623.7" cy="121.2" r="0.95"/>
<circle class="dg" cx="623.9" cy="79.2" r="0.95"/>
<circle class="dg" cx="623.6" cy="90.8" r="0.95"/>
<circle class="dg" cx="620.1" cy="88.5" r="0.95"/>
<circle class="dg" cx="622.3" cy="86.5" r="0.95"/>
<circle class="dg" cx="619.0" cy="100.2" r="0.95"/>
<circle class="dg" cx="618.4" cy="31.2" r="0.95"/>
<circle class="dg" cx="626.5" cy="102.0" r="0.95"/>
<circle class="dg" cx="621.5" cy="85.0" r="0.95"/>
<circle class="dg" cx="625.3" cy="108.8" r="0.95"/>
<circle class="dg" cx="620.5" cy="71.5" r="0.95"/>
<circle class="dg" cx="622.0" cy="42.8" r="0.95"/>
<circle class="dg" cx="622.1" cy="44.2" r="0.95"/>
<circle class="dg" cx="626.7" cy="83.0" r="0.95"/>
<circle class="dg" cx="623.3" cy="19.0" r="0.95"/>
<circle class="dg" cx="619.2" cy="17.5" r="0.95"/>
<circle class="dg" cx="623.4" cy="107.0" r="0.95"/>
<circle class="dg" cx="622.2" cy="122.5" r="0.95"/>
<circle class="dg" cx="621.7" cy="15.2" r="0.95"/>
<circle class="dg" cx="626.7" cy="75.8" r="0.95"/>
<circle class="dg" cx="622.5" cy="134.5" r="0.95"/>
<circle class="dg" cx="619.0" cy="53.2" r="0.95"/>
<circle class="dg" cx="620.1" cy="83.2" r="0.95"/>
<circle class="dg" cx="618.2" cy="28.2" r="0.95"/>
<circle class="dg" cx="624.4" cy="14.2" r="0.95"/>
<circle class="dg" cx="627.0" cy="25.5" r="0.95"/>
<circle class="dg" cx="626.1" cy="22.2" r="0.95"/>
<circle class="dg" cx="618.3" cy="26.2" r="0.95"/>
<circle class="dg" cx="620.3" cy="94.0" r="0.95"/>
<circle class="dg" cx="619.8" cy="96.0" r="0.95"/>
<circle class="dg" cx="625.2" cy="18.8" r="0.95"/>
<circle class="dg" cx="626.0" cy="93.2" r="0.95"/>
<circle class="dg" cx="618.9" cy="95.5" r="0.95"/>
<circle class="dg" cx="624.6" cy="81.0" r="0.95"/>
<circle class="dg" cx="626.7" cy="57.8" r="0.95"/>
<circle class="dg" cx="627.0" cy="38.0" r="0.95"/>
<circle class="dg" cx="618.2" cy="93.8" r="0.95"/>
<circle class="dg" cx="624.1" cy="15.2" r="0.95"/>
<circle class="dg" cx="618.8" cy="108.0" r="0.95"/>
<circle class="dg" cx="624.8" cy="43.5" r="0.95"/>
<circle class="dg" cx="626.0" cy="29.8" r="0.95"/>
<circle class="dg" cx="618.6" cy="60.8" r="0.95"/>
<circle class="dg" cx="623.4" cy="48.8" r="0.95"/>
<circle class="dg" cx="624.3" cy="55.8" r="0.95"/>
<circle class="dg" cx="625.4" cy="27.8" r="0.95"/>
<circle class="dg" cx="624.0" cy="48.5" r="0.95"/>
<circle class="dg" cx="621.9" cy="81.2" r="0.95"/>
<circle class="dg" cx="625.3" cy="50.5" r="0.95"/>
<circle class="dg" cx="625.3" cy="126.8" r="0.95"/>
<circle class="dg" cx="620.8" cy="72.2" r="0.95"/>
<circle class="dg" cx="627.1" cy="19.8" r="0.95"/>
<circle class="dg" cx="625.7" cy="91.8" r="0.95"/>
<circle class="dg" cx="623.7" cy="45.5" r="0.95"/>
<circle class="dg" cx="625.7" cy="133.5" r="0.95"/>
<circle class="dg" cx="620.9" cy="77.2" r="0.95"/>
<circle class="dg" cx="626.3" cy="54.8" r="0.95"/>
<circle class="dg" cx="624.4" cy="49.8" r="0.95"/>
<circle class="dg" cx="626.3" cy="77.2" r="0.95"/>
<circle class="dg" cx="620.7" cy="106.5" r="0.95"/>
<circle class="dg" cx="620.5" cy="14.0" r="0.95"/>
<circle class="dg" cx="623.5" cy="54.0" r="0.95"/>
<circle class="dg" cx="626.3" cy="107.8" r="0.95"/>
<circle class="dg" cx="625.8" cy="18.0" r="0.95"/>
<circle class="dg" cx="626.1" cy="107.2" r="0.95"/>
<circle class="dg" cx="620.6" cy="73.0" r="0.95"/>
<circle class="dg" cx="625.5" cy="112.8" r="0.95"/>
<circle class="dg" cx="626.5" cy="89.0" r="0.95"/>
<circle class="dg" cx="618.9" cy="47.0" r="0.95"/>
<circle class="dg" cx="625.4" cy="70.2" r="0.95"/>
<circle class="dg" cx="625.0" cy="33.0" r="0.95"/>
<circle class="dg" cx="620.3" cy="124.5" r="0.95"/>
<circle class="dg" cx="624.3" cy="78.0" r="0.95"/>
<circle class="dg" cx="620.0" cy="58.2" r="0.95"/>
<circle class="dg" cx="625.0" cy="38.0" r="0.95"/>
<circle class="dg" cx="622.3" cy="104.2" r="0.95"/>
<circle class="dg" cx="625.5" cy="22.2" r="0.95"/>
<circle class="dg" cx="620.2" cy="101.5" r="0.95"/>
<circle class="dg" cx="626.4" cy="74.0" r="0.95"/>
<circle class="dg" cx="622.9" cy="117.8" r="0.95"/>
<circle class="dg" cx="623.5" cy="59.5" r="0.95"/>
<circle class="dg" cx="619.9" cy="32.0" r="0.95"/>
<circle class="dg" cx="624.5" cy="31.0" r="0.95"/>
<circle class="dg" cx="623.3" cy="48.5" r="0.95"/>
<circle class="dg" cx="622.9" cy="52.2" r="0.95"/>
<circle class="dg" cx="618.5" cy="28.0" r="0.95"/>
<circle class="dg" cx="621.5" cy="141.0" r="0.95"/>
<circle class="dg" cx="623.9" cy="24.0" r="0.95"/>
<circle class="dg" cx="619.5" cy="103.8" r="0.95"/>
<circle class="dg" cx="621.3" cy="76.5" r="0.95"/>
<circle class="dg" cx="618.3" cy="65.5" r="0.95"/>
<circle class="dg" cx="627.2" cy="17.0" r="0.95"/>
<circle class="dg" cx="622.6" cy="115.0" r="0.95"/>
<circle class="dg" cx="620.5" cy="72.2" r="0.95"/>
<circle class="dg" cx="622.0" cy="102.5" r="0.95"/>
<circle class="dg" cx="625.2" cy="127.0" r="0.95"/>
<circle class="dg" cx="627.0" cy="108.2" r="0.95"/>
<circle class="dg" cx="618.4" cy="38.0" r="0.95"/>
<circle class="dg" cx="619.8" cy="33.0" r="0.95"/>
<circle class="dg" cx="618.6" cy="21.8" r="0.95"/>
<circle class="dg" cx="626.1" cy="71.0" r="0.95"/>
<circle class="dg" cx="626.8" cy="57.5" r="0.95"/>
<circle class="dg" cx="618.7" cy="121.2" r="0.95"/>
<circle class="dg" cx="621.8" cy="76.8" r="0.95"/>
<circle class="gr" cx="617.2" cy="14.0" r="1.3"/>
<circle class="gr" cx="618.6" cy="13.9" r="1.3"/>
<circle class="gr" cx="620.0" cy="14.0" r="1.3"/>
<circle class="gr" cx="621.3" cy="13.9" r="1.3"/>
<circle class="gr" cx="624.3" cy="13.9" r="1.3"/>
<circle class="gr" cx="625.6" cy="14.0" r="1.3"/>
<circle class="gr" cx="626.9" cy="13.9" r="1.3"/>
<circle class="gr" cx="628.2" cy="14.0" r="1.3"/>
<circle class="gr" cx="622.6" cy="32.3" r="1.3"/>
<circle class="gr" cx="624.2" cy="31.8" r="1.3"/>
<circle class="gr" cx="618.1" cy="35.8" r="1.3"/>
<circle class="gr" cx="618.4" cy="39.7" r="1.3"/>
<circle class="gr" cx="622.8" cy="39.9" r="1.3"/>
<circle class="gr" cx="617.5" cy="47.4" r="1.3"/>
<circle class="gr" cx="620.2" cy="48.6" r="1.3"/>
<circle class="gr" cx="621.6" cy="49.5" r="1.3"/>
<circle class="gr" cx="625.7" cy="51.0" r="1.3"/>
<circle class="gr" cx="620.4" cy="66.8" r="1.3"/>
<circle class="gr" cx="620.4" cy="68.5" r="1.3"/>
<circle class="gr" cx="621.0" cy="73.9" r="1.3"/>
<circle class="gr" cx="625.3" cy="82.4" r="1.3"/>
<circle class="gr" cx="625.1" cy="84.7" r="1.3"/>
<circle class="gr" cx="620.8" cy="84.9" r="1.3"/>
<circle class="gr" cx="627.2" cy="96.6" r="1.3"/>
<circle class="gr" cx="620.8" cy="101.1" r="1.3"/>
<circle class="gr" cx="621.2" cy="102.8" r="1.3"/>
<circle class="gr" cx="619.5" cy="113.1" r="1.3"/>
<circle class="gr" cx="618.1" cy="118.9" r="1.3"/>
<circle class="gr" cx="621.6" cy="121.3" r="1.3"/>
<circle class="gr" cx="624.3" cy="123.7" r="1.3"/>
<circle class="gr" cx="625.7" cy="142.7" r="1.3"/>
<circle class="rd" cx="622.8" cy="14.4" r="1.3"/>
<circle class="rd" cx="626.0" cy="17.0" r="1.3"/>
<circle class="rd" cx="625.8" cy="29.6" r="1.3"/>
</g>
<g id="pe">
<line class="gm" x1="391.8" x2="517.0" y1="180.63" y2="180.63"/>
<line class="gm" x1="391.8" x2="517.0" y1="215.96" y2="215.96"/>
<line class="gm" x1="391.8" x2="517.0" y1="251.30" y2="251.30"/>
<line class="gm" x1="391.8" x2="517.0" y1="286.63" y2="286.63"/>
<line class="gM" x1="391.8" x2="517.0" y1="198.30" y2="198.30"/>
<line class="gM" x1="391.8" x2="517.0" y1="233.63" y2="233.63"/>
<line class="gM" x1="391.8" x2="517.0" y1="268.97" y2="268.97"/>
<line class="gM" x1="391.8" x2="517.0" y1="304.30" y2="304.30"/>
<line class="gM" style="stroke:#f0f0f0" x1="454.15" x2="454.15" y1="164.0" y2="308.0"/>
<text class="ax" x="388.5" y="201.45">150</text>
<text class="ax" x="388.5" y="236.78">100</text>
<text class="ax" x="388.5" y="272.12">50</text>
<text class="ax" x="388.5" y="307.45">0</text>
<text class="at" transform="translate(366.6 234.5) rotate(-90)">Unique Reads [M]</text>
<path class="vio" d="M453.70 169.70 C453.69 171.42 453.67 176.78 453.65 180.00 C453.62 183.22 453.62 186.67 453.55 189.00 C453.48 191.33 453.40 192.33 453.25 194.00 C453.10 195.67 452.93 197.20 452.65 199.00 C452.37 200.80 452.02 202.85 451.55 204.80 C451.07 206.75 450.27 209.13 449.80 210.70 C449.33 212.27 449.12 213.23 448.75 214.20 C448.38 215.17 447.97 215.72 447.55 216.50 C447.13 217.28 446.62 217.92 446.25 218.90 C445.88 219.88 445.55 221.23 445.30 222.40 C445.05 223.57 445.09 225.02 444.75 225.90 C444.41 226.78 444.05 227.15 443.25 227.70 C442.45 228.25 441.83 228.53 439.95 229.20 C438.07 229.87 434.60 230.88 431.95 231.70 C429.30 232.52 426.43 233.38 424.05 234.10 C421.67 234.82 419.63 235.18 417.65 236.00 C415.67 236.82 413.77 237.85 412.15 239.00 C410.53 240.15 408.77 241.77 407.95 242.90 C407.13 244.03 406.88 244.67 407.25 245.80 C407.62 246.93 408.25 248.40 410.15 249.70 C412.05 251.00 415.40 252.13 418.65 253.60 C421.90 255.07 427.03 257.27 429.65 258.50 C432.27 259.73 432.73 260.17 434.35 261.00 C435.97 261.83 438.08 262.83 439.35 263.50 C440.62 264.17 441.08 264.42 441.95 265.00 C442.82 265.58 443.87 266.32 444.55 267.00 C445.23 267.68 445.87 268.07 446.05 269.10 C446.23 270.13 445.50 271.93 445.65 273.20 C445.80 274.47 446.43 275.80 446.95 276.70 C447.47 277.60 448.15 278.02 448.75 278.60 C449.35 279.18 449.97 279.63 450.55 280.20 C451.13 280.77 451.77 281.42 452.25 282.00 C452.73 282.58 453.22 282.03 453.45 283.70 C453.68 285.37 453.62 289.23 453.65 292.00 C453.68 294.77 453.65 298.92 453.65 300.30 L454.65 300.30 C454.65 298.92 454.62 294.77 454.65 292.00 C454.68 289.23 454.62 285.37 454.85 283.70 C455.08 282.03 455.57 282.58 456.05 282.00 C456.53 281.42 457.17 280.77 457.75 280.20 C458.33 279.63 458.95 279.18 459.55 278.60 C460.15 278.02 460.83 277.60 461.35 276.70 C461.87 275.80 462.50 274.47 462.65 273.20 C462.80 271.93 462.07 270.13 462.25 269.10 C462.43 268.07 463.07 267.68 463.75 267.00 C464.43 266.32 465.48 265.58 466.35 265.00 C467.22 264.42 467.68 264.17 468.95 263.50 C470.22 262.83 472.33 261.83 473.95 261.00 C475.57 260.17 476.03 259.73 478.65 258.50 C481.27 257.27 486.40 255.07 489.65 253.60 C492.90 252.13 496.25 251.00 498.15 249.70 C500.05 248.40 500.68 246.93 501.05 245.80 C501.42 244.67 501.17 244.03 500.35 242.90 C499.53 241.77 497.77 240.15 496.15 239.00 C494.53 237.85 492.63 236.82 490.65 236.00 C488.67 235.18 486.63 234.82 484.25 234.10 C481.87 233.38 479.00 232.52 476.35 231.70 C473.70 230.88 470.23 229.87 468.35 229.20 C466.47 228.53 465.85 228.25 465.05 227.70 C464.25 227.15 463.89 226.78 463.55 225.90 C463.21 225.02 463.25 223.57 463.00 222.40 C462.75 221.23 462.42 219.88 462.05 218.90 C461.67 217.92 461.17 217.28 460.75 216.50 C460.33 215.72 459.92 215.17 459.55 214.20 C459.17 213.23 458.97 212.27 458.50 210.70 C458.03 209.13 457.23 206.75 456.75 204.80 C456.27 202.85 455.93 200.80 455.65 199.00 C455.37 197.20 455.20 195.67 455.05 194.00 C454.90 192.33 454.82 191.33 454.75 189.00 C454.68 186.67 454.67 183.22 454.65 180.00 C454.62 176.78 454.61 171.42 454.60 169.70 Z"/>
<line class="thr" x1="392.1" x2="517.0" y1="268.97" y2="268.97"/>
<line class="box" x1="454.15" x2="454.15" y1="212.00" y2="237.20"/>
<line class="box" x1="454.15" x2="454.15" y1="253.90" y2="279.00"/>
<rect class="box" x="443.50" y="237.20" width="21.60" height="16.70"/>
<line class="box" style="stroke:#3c3c3c;stroke-width:0.85" x1="443.50" x2="465.10" y1="245.30" y2="245.30"/>
<circle class="dg" cx="448.8" cy="245.0" r="0.95"/>
<circle class="dg" cx="453.9" cy="264.8" r="0.95"/>
<circle class="dg" cx="451.6" cy="261.2" r="0.95"/>
<circle class="dg" cx="457.8" cy="231.2" r="0.95"/>
<circle class="dg" cx="450.4" cy="240.5" r="0.95"/>
<circle class="dg" cx="455.2" cy="240.8" r="0.95"/>
<circle class="dg" cx="454.4" cy="206.5" r="0.95"/>
<circle class="dg" cx="454.3" cy="243.5" r="0.95"/>
<circle class="dg" cx="456.5" cy="225.0" r="0.95"/>
<circle class="dg" cx="458.2" cy="257.5" r="0.95"/>
<circle class="dg" cx="456.5" cy="238.8" r="0.95"/>
<circle class="dg" cx="456.9" cy="241.0" r="0.95"/>
<circle class="dg" cx="458.3" cy="218.2" r="0.95"/>
<circle class="dg" cx="454.1" cy="270.5" r="0.95"/>
<circle class="dg" cx="454.5" cy="245.8" r="0.95"/>
<circle class="dg" cx="448.9" cy="246.5" r="0.95"/>
<circle class="dg" cx="451.1" cy="272.8" r="0.95"/>
<circle class="dg" cx="449.8" cy="231.0" r="0.95"/>
<circle class="dg" cx="457.6" cy="235.8" r="0.95"/>
<circle class="dg" cx="449.7" cy="214.2" r="0.95"/>
<circle class="dg" cx="450.8" cy="252.2" r="0.95"/>
<circle class="dg" cx="455.2" cy="212.0" r="0.95"/>
<circle class="dg" cx="454.4" cy="247.8" r="0.95"/>
<circle class="dg" cx="449.8" cy="252.2" r="0.95"/>
<circle class="dg" cx="456.5" cy="261.0" r="0.95"/>
<circle class="dg" cx="450.0" cy="216.5" r="0.95"/>
<circle class="dg" cx="454.2" cy="245.0" r="0.95"/>
<circle class="dg" cx="450.0" cy="237.0" r="0.95"/>
<circle class="dg" cx="450.2" cy="242.0" r="0.95"/>
<circle class="dg" cx="458.1" cy="248.2" r="0.95"/>
<circle class="dg" cx="455.0" cy="227.8" r="0.95"/>
<circle class="dg" cx="450.5" cy="254.0" r="0.95"/>
<circle class="dg" cx="459.0" cy="258.0" r="0.95"/>
<circle class="dg" cx="453.3" cy="241.5" r="0.95"/>
<circle class="dg" cx="454.4" cy="258.8" r="0.95"/>
<circle class="dg" cx="459.0" cy="241.8" r="0.95"/>
<circle class="dg" cx="452.4" cy="255.5" r="0.95"/>
<circle class="dg" cx="452.3" cy="235.0" r="0.95"/>
<circle class="dg" cx="459.4" cy="243.0" r="0.95"/>
<circle class="dg" cx="458.7" cy="256.8" r="0.95"/>
<circle class="dg" cx="458.0" cy="257.2" r="0.95"/>
<circle class="dg" cx="454.3" cy="217.5" r="0.95"/>
<circle class="dg" cx="458.9" cy="271.2" r="0.95"/>
<circle class="dg" cx="453.3" cy="235.5" r="0.95"/>
<circle class="dg" cx="452.7" cy="249.8" r="0.95"/>
<circle class="dg" cx="449.4" cy="246.2" r="0.95"/>
<circle class="dg" cx="454.2" cy="243.0" r="0.95"/>
<circle class="dg" cx="450.2" cy="212.8" r="0.95"/>
<circle class="dg" cx="457.2" cy="273.2" r="0.95"/>
<circle class="dg" cx="455.6" cy="268.2" r="0.95"/>
<circle class="dg" cx="458.4" cy="257.0" r="0.95"/>
<circle class="dg" cx="449.0" cy="262.2" r="0.95"/>
<circle class="dg" cx="451.6" cy="250.0" r="0.95"/>
<circle class="dg" cx="451.7" cy="251.5" r="0.95"/>
<circle class="dg" cx="458.8" cy="246.8" r="0.95"/>
<circle class="dg" cx="451.4" cy="249.2" r="0.95"/>
<circle class="dg" cx="453.4" cy="246.0" r="0.95"/>
<circle class="dg" cx="451.8" cy="270.0" r="0.95"/>
<circle class="dg" cx="455.8" cy="238.2" r="0.95"/>
<circle class="dg" cx="455.2" cy="225.0" r="0.95"/>
<circle class="dg" cx="454.3" cy="271.0" r="0.95"/>
<circle class="dg" cx="453.8" cy="236.5" r="0.95"/>
<circle class="dg" cx="450.3" cy="246.2" r="0.95"/>
<circle class="dg" cx="450.1" cy="225.2" r="0.95"/>
<circle class="dg" cx="453.1" cy="237.8" r="0.95"/>
<circle class="dg" cx="451.3" cy="237.5" r="0.95"/>
<circle class="dg" cx="454.7" cy="221.2" r="0.95"/>
<circle class="dg" cx="455.4" cy="258.8" r="0.95"/>
<circle class="dg" cx="455.8" cy="247.5" r="0.95"/>
<circle class="dg" cx="456.5" cy="232.5" r="0.95"/>
<circle class="dg" cx="454.7" cy="244.0" r="0.95"/>
<circle class="dg" cx="453.8" cy="249.0" r="0.95"/>
<circle class="dg" cx="451.3" cy="238.5" r="0.95"/>
<circle class="dg" cx="454.3" cy="234.0" r="0.95"/>
<circle class="dg" cx="455.1" cy="241.2" r="0.95"/>
<circle class="dg" cx="452.5" cy="210.5" r="0.95"/>
<circle class="dg" cx="451.3" cy="260.5" r="0.95"/>
<circle class="dg" cx="454.1" cy="247.2" r="0.95"/>
<circle class="dg" cx="459.5" cy="237.2" r="0.95"/>
<circle class="dg" cx="457.1" cy="237.8" r="0.95"/>
<circle class="dg" cx="449.4" cy="229.0" r="0.95"/>
<circle class="dg" cx="453.5" cy="261.0" r="0.95"/>
<circle class="dg" cx="452.9" cy="218.5" r="0.95"/>
<circle class="dg" cx="456.7" cy="243.2" r="0.95"/>
<circle class="dg" cx="451.1" cy="223.8" r="0.95"/>
<circle class="dg" cx="456.8" cy="271.5" r="0.95"/>
<circle class="dg" cx="452.4" cy="228.5" r="0.95"/>
<circle class="dg" cx="456.1" cy="240.0" r="0.95"/>
<circle class="dg" cx="458.0" cy="249.2" r="0.95"/>
<circle class="dg" cx="454.3" cy="257.8" r="0.95"/>
<circle class="dg" cx="456.8" cy="253.8" r="0.95"/>
<circle class="dg" cx="453.9" cy="254.5" r="0.95"/>
<circle class="dg" cx="456.4" cy="255.8" r="0.95"/>
<circle class="dg" cx="450.0" cy="265.2" r="0.95"/>
<circle class="dg" cx="448.7" cy="261.0" r="0.95"/>
<circle class="dg" cx="455.1" cy="255.0" r="0.95"/>
<circle class="dg" cx="459.2" cy="245.2" r="0.95"/>
<circle class="dg" cx="453.2" cy="247.8" r="0.95"/>
<circle class="dg" cx="458.3" cy="255.8" r="0.95"/>
<circle class="dg" cx="452.8" cy="249.0" r="0.95"/>
<circle class="dg" cx="453.7" cy="243.5" r="0.95"/>
<circle class="dg" cx="451.9" cy="253.0" r="0.95"/>
<circle class="dg" cx="454.8" cy="241.5" r="0.95"/>
<circle class="dg" cx="452.2" cy="241.2" r="0.95"/>
<circle class="dg" cx="458.0" cy="256.0" r="0.95"/>
<circle class="dg" cx="453.5" cy="245.2" r="0.95"/>
<circle class="dg" cx="452.0" cy="231.2" r="0.95"/>
<circle class="dg" cx="455.0" cy="227.5" r="0.95"/>
<circle class="dg" cx="449.6" cy="248.0" r="0.95"/>
<circle class="dg" cx="452.2" cy="266.0" r="0.95"/>
<circle class="dg" cx="457.9" cy="259.0" r="0.95"/>
<circle class="dg" cx="450.9" cy="271.2" r="0.95"/>
<circle class="dg" cx="458.7" cy="242.8" r="0.95"/>
<circle class="dg" cx="449.2" cy="210.2" r="0.95"/>
<circle class="dg" cx="454.1" cy="247.5" r="0.95"/>
<circle class="dg" cx="457.2" cy="266.0" r="0.95"/>
<circle class="dg" cx="459.6" cy="246.5" r="0.95"/>
<circle class="dg" cx="454.3" cy="245.8" r="0.95"/>
<circle class="dg" cx="452.9" cy="251.8" r="0.95"/>
<circle class="dg" cx="455.2" cy="240.2" r="0.95"/>
<circle class="dg" cx="459.1" cy="240.0" r="0.95"/>
<circle class="dg" cx="454.4" cy="251.2" r="0.95"/>
<circle class="dg" cx="452.8" cy="222.5" r="0.95"/>
<circle class="dg" cx="454.8" cy="241.8" r="0.95"/>
<circle class="dg" cx="458.3" cy="247.8" r="0.95"/>
<circle class="dg" cx="454.0" cy="272.2" r="0.95"/>
<circle class="dg" cx="455.5" cy="243.2" r="0.95"/>
<circle class="dg" cx="452.4" cy="279.8" r="0.95"/>
<circle class="dg" cx="457.6" cy="246.2" r="0.95"/>
<circle class="dg" cx="452.1" cy="230.0" r="0.95"/>
<circle class="dg" cx="457.7" cy="275.0" r="0.95"/>
<circle class="dg" cx="449.9" cy="245.8" r="0.95"/>
<circle class="dg" cx="456.2" cy="263.2" r="0.95"/>
<circle class="dg" cx="459.5" cy="257.8" r="0.95"/>
<circle class="dg" cx="453.3" cy="262.5" r="0.95"/>
<circle class="dg" cx="451.8" cy="228.8" r="0.95"/>
<circle class="dg" cx="454.2" cy="245.8" r="0.95"/>
<circle class="dg" cx="450.7" cy="231.5" r="0.95"/>
<circle class="dg" cx="455.3" cy="249.8" r="0.95"/>
<circle class="dg" cx="459.6" cy="240.0" r="0.95"/>
<circle class="dg" cx="449.1" cy="250.0" r="0.95"/>
<circle class="dg" cx="457.3" cy="242.2" r="0.95"/>
<circle class="dg" cx="456.2" cy="238.2" r="0.95"/>
<circle class="dg" cx="452.0" cy="205.8" r="0.95"/>
<circle class="dg" cx="455.1" cy="259.0" r="0.95"/>
<circle class="dg" cx="450.8" cy="251.0" r="0.95"/>
<circle class="dg" cx="454.7" cy="245.2" r="0.95"/>
<circle class="dg" cx="455.8" cy="236.5" r="0.95"/>
<circle class="dg" cx="459.6" cy="246.2" r="0.95"/>
<circle class="dg" cx="453.2" cy="247.8" r="0.95"/>
<circle class="dg" cx="450.4" cy="225.0" r="0.95"/>
<circle class="dg" cx="449.8" cy="254.5" r="0.95"/>
<circle class="dg" cx="450.5" cy="222.8" r="0.95"/>
<circle class="dg" cx="457.7" cy="246.0" r="0.95"/>
<circle class="dg" cx="457.5" cy="249.0" r="0.95"/>
<circle class="dg" cx="448.8" cy="218.5" r="0.95"/>
<circle class="dg" cx="452.2" cy="255.0" r="0.95"/>
<circle class="dg" cx="452.5" cy="252.8" r="0.95"/>
<circle class="dg" cx="451.6" cy="230.0" r="0.95"/>
<circle class="dg" cx="458.6" cy="222.5" r="0.95"/>
<circle class="dg" cx="452.5" cy="248.0" r="0.95"/>
<circle class="dg" cx="452.9" cy="243.5" r="0.95"/>
<circle class="dg" cx="458.4" cy="217.5" r="0.95"/>
<circle class="dg" cx="459.2" cy="248.0" r="0.95"/>
<circle class="dg" cx="455.5" cy="243.2" r="0.95"/>
<circle class="dg" cx="449.1" cy="235.5" r="0.95"/>
<circle class="dg" cx="458.1" cy="267.2" r="0.95"/>
<circle class="dg" cx="458.5" cy="238.5" r="0.95"/>
<circle class="dg" cx="452.0" cy="257.5" r="0.95"/>
<circle class="dg" cx="459.2" cy="248.8" r="0.95"/>
<circle class="dg" cx="459.1" cy="245.0" r="0.95"/>
<circle class="dg" cx="452.9" cy="235.2" r="0.95"/>
<circle class="dg" cx="451.1" cy="253.0" r="0.95"/>
<circle class="dg" cx="458.3" cy="238.5" r="0.95"/>
<circle class="dg" cx="457.4" cy="244.8" r="0.95"/>
<circle class="dg" cx="450.6" cy="235.2" r="0.95"/>
<circle class="dg" cx="450.7" cy="240.2" r="0.95"/>
<circle class="dg" cx="451.8" cy="273.5" r="0.95"/>
<circle class="dg" cx="449.9" cy="247.2" r="0.95"/>
<circle class="dg" cx="452.9" cy="246.2" r="0.95"/>
<circle class="dg" cx="449.4" cy="242.0" r="0.95"/>
<circle class="dg" cx="457.7" cy="225.2" r="0.95"/>
<circle class="dg" cx="451.3" cy="240.0" r="0.95"/>
<circle class="dg" cx="451.8" cy="231.8" r="0.95"/>
<circle class="dg" cx="449.0" cy="235.0" r="0.95"/>
<circle class="dg" cx="452.4" cy="251.0" r="0.95"/>
<circle class="dg" cx="456.4" cy="228.5" r="0.95"/>
<circle class="dg" cx="451.6" cy="221.8" r="0.95"/>
<circle class="dg" cx="450.1" cy="258.5" r="0.95"/>
<circle class="dg" cx="457.8" cy="243.2" r="0.95"/>
<circle class="dg" cx="450.4" cy="256.8" r="0.95"/>
<circle class="dg" cx="456.6" cy="240.0" r="0.95"/>
<circle class="dg" cx="459.2" cy="241.0" r="0.95"/>
<circle class="dg" cx="459.1" cy="233.0" r="0.95"/>
<circle class="dg" cx="451.2" cy="245.5" r="0.95"/>
<circle class="dg" cx="450.1" cy="243.8" r="0.95"/>
<circle class="dg" cx="451.5" cy="252.5" r="0.95"/>
<circle class="dg" cx="455.1" cy="263.8" r="0.95"/>
<circle class="dg" cx="451.4" cy="240.8" r="0.95"/>
<circle class="dg" cx="451.0" cy="249.0" r="0.95"/>
<circle class="dg" cx="450.0" cy="261.2" r="0.95"/>
<circle class="dg" cx="454.6" cy="245.8" r="0.95"/>
<circle class="dg" cx="457.1" cy="236.8" r="0.95"/>
<circle class="dg" cx="455.9" cy="241.2" r="0.95"/>
<circle class="dg" cx="452.1" cy="247.5" r="0.95"/>
<circle class="dg" cx="449.6" cy="241.5" r="0.95"/>
<circle class="dg" cx="458.0" cy="230.5" r="0.95"/>
<circle class="dg" cx="455.9" cy="238.8" r="0.95"/>
<circle class="dg" cx="454.8" cy="223.8" r="0.95"/>
<circle class="dg" cx="454.2" cy="240.5" r="0.95"/>
<circle class="dg" cx="449.4" cy="237.8" r="0.95"/>
<circle class="dg" cx="451.1" cy="238.5" r="0.95"/>
<circle class="dg" cx="456.5" cy="225.5" r="0.95"/>
<circle class="dg" cx="453.1" cy="237.2" r="0.95"/>
<circle class="dg" cx="457.2" cy="264.8" r="0.95"/>
<circle class="dg" cx="458.1" cy="262.0" r="0.95"/>
<circle class="dg" cx="451.7" cy="226.2" r="0.95"/>
<circle class="dg" cx="456.1" cy="214.2" r="0.95"/>
<circle class="dg" cx="452.5" cy="250.8" r="0.95"/>
<circle class="dg" cx="455.9" cy="242.2" r="0.95"/>
<circle class="dg" cx="451.4" cy="252.2" r="0.95"/>
<circle class="dg" cx="452.5" cy="259.2" r="0.95"/>
<circle class="dg" cx="450.6" cy="249.8" r="0.95"/>
<circle class="dg" cx="458.7" cy="224.2" r="0.95"/>
<circle class="dg" cx="456.5" cy="253.5" r="0.95"/>
<circle class="dg" cx="449.1" cy="215.8" r="0.95"/>
<circle class="dg" cx="450.8" cy="229.2" r="0.95"/>
<circle class="dg" cx="452.8" cy="238.2" r="0.95"/>
<circle class="dg" cx="452.1" cy="215.8" r="0.95"/>
<circle class="dg" cx="450.6" cy="250.0" r="0.95"/>
<circle class="dg" cx="454.9" cy="258.8" r="0.95"/>
<circle class="dg" cx="451.5" cy="252.8" r="0.95"/>
<circle class="dg" cx="456.2" cy="243.0" r="0.95"/>
<circle class="dg" cx="448.7" cy="240.0" r="0.95"/>
<circle class="dg" cx="457.2" cy="258.5" r="0.95"/>
<circle class="dg" cx="449.1" cy="237.5" r="0.95"/>
<circle class="dg" cx="455.3" cy="259.8" r="0.95"/>
<circle class="dg" cx="451.3" cy="216.8" r="0.95"/>
<circle class="dg" cx="457.4" cy="223.8" r="0.95"/>
<circle class="dg" cx="458.7" cy="233.2" r="0.95"/>
<circle class="dg" cx="449.6" cy="254.2" r="0.95"/>
<circle class="dg" cx="453.0" cy="252.0" r="0.95"/>
<circle class="dg" cx="457.8" cy="254.0" r="0.95"/>
<circle class="dg" cx="449.6" cy="237.2" r="0.95"/>
<circle class="dg" cx="453.3" cy="269.5" r="0.95"/>
<circle class="dg" cx="456.3" cy="267.2" r="0.95"/>
<circle class="dg" cx="457.8" cy="253.8" r="0.95"/>
<circle class="dg" cx="453.6" cy="249.5" r="0.95"/>
<circle class="dg" cx="456.3" cy="217.5" r="0.95"/>
<circle class="dg" cx="454.3" cy="242.8" r="0.95"/>
<circle class="dg" cx="450.1" cy="267.0" r="0.95"/>
<circle class="dg" cx="449.1" cy="254.8" r="0.95"/>
<circle class="dg" cx="457.5" cy="252.2" r="0.95"/>
<circle class="dg" cx="454.7" cy="236.2" r="0.95"/>
<circle class="dg" cx="455.7" cy="273.2" r="0.95"/>
<circle class="dg" cx="451.4" cy="246.8" r="0.95"/>
<circle class="dg" cx="452.6" cy="218.2" r="0.95"/>
<circle class="dg" cx="450.9" cy="242.2" r="0.95"/>
<circle class="dg" cx="450.2" cy="238.5" r="0.95"/>
<circle class="dg" cx="456.0" cy="252.5" r="0.95"/>
<circle class="dg" cx="451.3" cy="235.0" r="0.95"/>
<circle class="dg" cx="453.5" cy="245.8" r="0.95"/>
<circle class="dg" cx="452.5" cy="268.0" r="0.95"/>
<circle class="dg" cx="458.4" cy="238.0" r="0.95"/>
<circle class="dg" cx="454.8" cy="227.2" r="0.95"/>
<circle class="dg" cx="457.6" cy="239.2" r="0.95"/>
<circle class="dg" cx="457.0" cy="246.8" r="0.95"/>
<circle class="dg" cx="456.0" cy="229.8" r="0.95"/>
<circle class="dg" cx="453.7" cy="248.5" r="0.95"/>
<circle class="dg" cx="457.8" cy="255.0" r="0.95"/>
<circle class="dg" cx="451.8" cy="224.2" r="0.95"/>
<circle class="dg" cx="450.9" cy="240.2" r="0.95"/>
<circle class="dg" cx="451.7" cy="218.2" r="0.95"/>
<circle class="dg" cx="456.4" cy="232.2" r="0.95"/>
<circle class="dg" cx="449.9" cy="243.5" r="0.95"/>
<circle class="dg" cx="453.8" cy="239.0" r="0.95"/>
<circle class="dg" cx="450.5" cy="240.5" r="0.95"/>
<circle class="dg" cx="448.8" cy="219.5" r="0.95"/>
<circle class="dg" cx="456.9" cy="278.2" r="0.95"/>
<circle class="dg" cx="456.5" cy="220.8" r="0.95"/>
<circle class="dg" cx="454.9" cy="275.2" r="0.95"/>
<circle class="dg" cx="454.0" cy="223.5" r="0.95"/>
<circle class="dg" cx="450.7" cy="243.0" r="0.95"/>
<circle class="dg" cx="448.7" cy="246.8" r="0.95"/>
<circle class="dg" cx="455.7" cy="266.0" r="0.95"/>
<circle class="dg" cx="458.9" cy="249.5" r="0.95"/>
<circle class="dg" cx="451.4" cy="250.5" r="0.95"/>
<circle class="dg" cx="450.2" cy="235.5" r="0.95"/>
<circle class="dg" cx="457.2" cy="214.0" r="0.95"/>
<circle class="dg" cx="451.9" cy="258.8" r="0.95"/>
<circle class="dg" cx="455.7" cy="231.2" r="0.95"/>
<circle class="dg" cx="458.8" cy="259.2" r="0.95"/>
<circle class="dg" cx="457.3" cy="229.8" r="0.95"/>
<circle class="dg" cx="456.8" cy="258.2" r="0.95"/>
<circle class="dg" cx="450.7" cy="239.0" r="0.95"/>
<circle class="dg" cx="452.2" cy="258.0" r="0.95"/>
<circle class="dg" cx="454.7" cy="240.8" r="0.95"/>
<circle class="dg" cx="457.8" cy="240.8" r="0.95"/>
<circle class="dg" cx="449.1" cy="235.0" r="0.95"/>
<circle class="dg" cx="455.6" cy="247.5" r="0.95"/>
<circle class="dg" cx="456.4" cy="257.8" r="0.95"/>
<circle class="dg" cx="459.0" cy="264.2" r="0.95"/>
<circle class="dg" cx="454.1" cy="245.0" r="0.95"/>
<circle class="dg" cx="451.9" cy="228.8" r="0.95"/>
<circle class="dg" cx="449.5" cy="248.0" r="0.95"/>
<circle class="dg" cx="450.5" cy="251.8" r="0.95"/>
<circle class="dg" cx="459.3" cy="243.2" r="0.95"/>
<circle class="dg" cx="449.1" cy="221.5" r="0.95"/>
<circle class="dg" cx="450.7" cy="243.2" r="0.95"/>
<circle class="dg" cx="448.7" cy="253.0" r="0.95"/>
<circle class="dg" cx="458.1" cy="259.0" r="0.95"/>
<circle class="dg" cx="453.3" cy="256.0" r="0.95"/>
<circle class="dg" cx="455.9" cy="237.2" r="0.95"/>
<circle class="dg" cx="453.3" cy="245.8" r="0.95"/>
<circle class="dg" cx="453.5" cy="239.5" r="0.95"/>
<circle class="dg" cx="457.7" cy="251.0" r="0.95"/>
<circle class="dg" cx="450.5" cy="264.2" r="0.95"/>
<circle class="dg" cx="453.5" cy="237.8" r="0.95"/>
<circle class="dg" cx="452.5" cy="247.2" r="0.95"/>
<circle class="dg" cx="449.6" cy="232.2" r="0.95"/>
<circle class="dg" cx="453.7" cy="239.0" r="0.95"/>
<circle class="dg" cx="458.6" cy="273.5" r="0.95"/>
<circle class="dg" cx="459.4" cy="260.8" r="0.95"/>
<circle class="dg" cx="455.5" cy="271.8" r="0.95"/>
<circle class="dg" cx="449.3" cy="257.2" r="0.95"/>
<circle class="dg" cx="455.4" cy="251.2" r="0.95"/>
<circle class="dg" cx="454.9" cy="237.8" r="0.95"/>
<circle class="dg" cx="453.9" cy="270.5" r="0.95"/>
<circle class="dg" cx="451.9" cy="250.2" r="0.95"/>
<circle class="dg" cx="458.4" cy="239.8" r="0.95"/>
<circle class="dg" cx="450.7" cy="214.0" r="0.95"/>
<circle class="dg" cx="453.6" cy="251.5" r="0.95"/>
<circle class="dg" cx="455.9" cy="221.0" r="0.95"/>
<circle class="dg" cx="455.0" cy="240.8" r="0.95"/>
<circle class="dg" cx="454.5" cy="242.2" r="0.95"/>
<circle class="dg" cx="453.0" cy="247.5" r="0.95"/>
<circle class="dg" cx="450.6" cy="224.2" r="0.95"/>
<circle class="dg" cx="454.7" cy="262.8" r="0.95"/>
<circle class="dg" cx="458.1" cy="224.0" r="0.95"/>
<circle class="dg" cx="449.7" cy="235.8" r="0.95"/>
<circle class="dg" cx="451.4" cy="246.2" r="0.95"/>
<circle class="dg" cx="454.7" cy="245.0" r="0.95"/>
<circle class="dg" cx="454.9" cy="234.2" r="0.95"/>
<circle class="dg" cx="454.3" cy="224.0" r="0.95"/>
<circle class="dg" cx="449.5" cy="248.2" r="0.95"/>
<circle class="dg" cx="449.5" cy="242.0" r="0.95"/>
<circle class="dg" cx="458.1" cy="243.2" r="0.95"/>
<circle class="dg" cx="456.5" cy="247.0" r="0.95"/>
<circle class="dg" cx="449.9" cy="254.5" r="0.95"/>
<circle class="dg" cx="456.6" cy="278.0" r="0.95"/>
<circle class="dg" cx="457.8" cy="222.8" r="0.95"/>
<circle class="dg" cx="450.5" cy="241.5" r="0.95"/>
<circle class="dg" cx="454.8" cy="271.5" r="0.95"/>
<circle class="dg" cx="450.2" cy="255.2" r="0.95"/>
<circle class="dg" cx="449.3" cy="255.5" r="0.95"/>
<circle class="dg" cx="452.7" cy="235.0" r="0.95"/>
<circle class="dg" cx="455.2" cy="211.5" r="0.95"/>
<circle class="dg" cx="451.9" cy="233.5" r="0.95"/>
<circle class="dg" cx="453.3" cy="252.5" r="0.95"/>
<circle class="dg" cx="455.5" cy="262.5" r="0.95"/>
<circle class="dg" cx="454.8" cy="261.2" r="0.95"/>
<circle class="dg" cx="458.2" cy="265.8" r="0.95"/>
<circle class="dg" cx="456.8" cy="229.8" r="0.95"/>
<circle class="dg" cx="457.0" cy="239.8" r="0.95"/>
<circle class="dg" cx="457.7" cy="251.5" r="0.95"/>
<circle class="dg" cx="452.8" cy="225.2" r="0.95"/>
<circle class="dg" cx="459.1" cy="253.8" r="0.95"/>
<circle class="dg" cx="449.1" cy="253.0" r="0.95"/>
<circle class="dg" cx="449.7" cy="248.8" r="0.95"/>
<circle class="dg" cx="457.5" cy="247.0" r="0.95"/>
<circle class="dg" cx="458.8" cy="224.0" r="0.95"/>
<circle class="dg" cx="451.5" cy="251.2" r="0.95"/>
<circle class="dg" cx="453.6" cy="232.0" r="0.95"/>
<circle class="dg" cx="455.0" cy="258.8" r="0.95"/>
<circle class="dg" cx="448.9" cy="224.2" r="0.95"/>
<circle class="dg" cx="457.5" cy="223.8" r="0.95"/>
<circle class="dg" cx="454.7" cy="231.2" r="0.95"/>
<circle class="dg" cx="456.2" cy="237.5" r="0.95"/>
<circle class="dg" cx="450.2" cy="241.0" r="0.95"/>
<circle class="dg" cx="454.6" cy="261.5" r="0.95"/>
<circle class="dg" cx="457.5" cy="251.8" r="0.95"/>
<circle class="dg" cx="448.8" cy="269.8" r="0.95"/>
<circle class="dg" cx="450.3" cy="239.8" r="0.95"/>
<circle class="dg" cx="458.3" cy="245.2" r="0.95"/>
<circle class="dg" cx="449.0" cy="256.5" r="0.95"/>
<circle class="dg" cx="457.7" cy="231.0" r="0.95"/>
<circle class="dg" cx="453.0" cy="251.5" r="0.95"/>
<circle class="dg" cx="450.4" cy="244.5" r="0.95"/>
<circle class="dg" cx="453.0" cy="259.2" r="0.95"/>
<circle class="dg" cx="455.4" cy="261.2" r="0.95"/>
<circle class="dg" cx="452.3" cy="220.0" r="0.95"/>
<circle class="dg" cx="458.5" cy="233.8" r="0.95"/>
<circle class="dg" cx="449.1" cy="248.2" r="0.95"/>
<circle class="dg" cx="452.6" cy="230.0" r="0.95"/>
<circle class="dg" cx="455.0" cy="244.2" r="0.95"/>
<circle class="dg" cx="452.5" cy="241.2" r="0.95"/>
<circle class="dg" cx="455.0" cy="207.8" r="0.95"/>
<circle class="dg" cx="448.9" cy="239.2" r="0.95"/>
<circle class="dg" cx="459.5" cy="243.8" r="0.95"/>
<circle class="dg" cx="450.3" cy="216.5" r="0.95"/>
<circle class="dg" cx="451.6" cy="251.2" r="0.95"/>
<circle class="dg" cx="454.2" cy="236.8" r="0.95"/>
<circle class="dg" cx="454.9" cy="236.2" r="0.95"/>
<circle class="dg" cx="459.2" cy="246.2" r="0.95"/>
<circle class="dg" cx="449.0" cy="278.5" r="0.95"/>
<circle class="dg" cx="457.1" cy="247.2" r="0.95"/>
<circle class="dg" cx="457.2" cy="261.2" r="0.95"/>
<circle class="dg" cx="455.6" cy="249.8" r="0.95"/>
<circle class="dg" cx="451.7" cy="240.5" r="0.95"/>
<circle class="dg" cx="458.3" cy="256.2" r="0.95"/>
<circle class="dg" cx="456.1" cy="268.2" r="0.95"/>
<circle class="dg" cx="457.0" cy="238.2" r="0.95"/>
<circle class="dg" cx="454.2" cy="253.8" r="0.95"/>
<circle class="dg" cx="452.5" cy="249.8" r="0.95"/>
<circle class="dg" cx="453.1" cy="247.0" r="0.95"/>
<circle class="dg" cx="452.4" cy="218.2" r="0.95"/>
<circle class="dg" cx="459.5" cy="239.0" r="0.95"/>
<circle class="dg" cx="452.7" cy="244.5" r="0.95"/>
<circle class="dg" cx="451.2" cy="235.2" r="0.95"/>
<circle class="dg" cx="450.1" cy="240.0" r="0.95"/>
<circle class="dg" cx="458.2" cy="208.8" r="0.95"/>
<circle class="dg" cx="453.6" cy="243.8" r="0.95"/>
<circle class="dg" cx="452.0" cy="247.5" r="0.95"/>
<circle class="dg" cx="449.4" cy="229.8" r="0.95"/>
<circle class="dg" cx="452.0" cy="238.0" r="0.95"/>
<circle class="dg" cx="454.7" cy="253.2" r="0.95"/>
<circle class="dg" cx="452.4" cy="268.2" r="0.95"/>
<circle class="dg" cx="455.1" cy="266.2" r="0.95"/>
<circle class="dg" cx="450.6" cy="220.5" r="0.95"/>
<circle class="dg" cx="459.5" cy="248.0" r="0.95"/>
<circle class="dg" cx="457.2" cy="240.2" r="0.95"/>
<circle class="dg" cx="458.2" cy="242.8" r="0.95"/>
<circle class="dg" cx="454.0" cy="219.0" r="0.95"/>
<circle class="dg" cx="451.7" cy="263.5" r="0.95"/>
<circle class="dg" cx="448.9" cy="236.0" r="0.95"/>
<circle class="dg" cx="451.6" cy="229.5" r="0.95"/>
<circle class="dg" cx="451.1" cy="252.2" r="0.95"/>
<circle class="dg" cx="450.9" cy="241.8" r="0.95"/>
<circle class="dg" cx="458.2" cy="248.8" r="0.95"/>
<circle class="dg" cx="450.8" cy="250.2" r="0.95"/>
<circle class="dg" cx="459.2" cy="253.5" r="0.95"/>
<circle class="dg" cx="449.5" cy="248.8" r="0.95"/>
<circle class="dg" cx="458.3" cy="257.0" r="0.95"/>
<circle class="dg" cx="450.2" cy="239.8" r="0.95"/>
<circle class="dg" cx="454.6" cy="231.5" r="0.95"/>
<circle class="dg" cx="455.7" cy="261.5" r="0.95"/>
<circle class="dg" cx="451.0" cy="266.2" r="0.95"/>
<circle class="dg" cx="456.9" cy="239.0" r="0.95"/>
<circle class="dg" cx="453.1" cy="250.2" r="0.95"/>
<circle class="dg" cx="452.4" cy="251.5" r="0.95"/>
<circle class="dg" cx="453.2" cy="218.0" r="0.95"/>
<circle class="dg" cx="455.5" cy="216.5" r="0.95"/>
<circle class="dg" cx="454.1" cy="239.5" r="0.95"/>
<circle class="dg" cx="451.5" cy="248.5" r="0.95"/>
<circle class="dg" cx="448.8" cy="244.0" r="0.95"/>
<circle class="dg" cx="454.9" cy="266.8" r="0.95"/>
<circle class="dg" cx="449.3" cy="277.0" r="0.95"/>
<circle class="dg" cx="456.6" cy="249.0" r="0.95"/>
<circle class="dg" cx="449.7" cy="239.2" r="0.95"/>
<circle class="dg" cx="450.2" cy="228.8" r="0.95"/>
<circle class="dg" cx="449.6" cy="255.0" r="0.95"/>
<circle class="dg" cx="453.3" cy="257.2" r="0.95"/>
<circle class="dg" cx="455.1" cy="246.5" r="0.95"/>
<circle class="dg" cx="455.9" cy="247.0" r="0.95"/>
<circle class="dg" cx="452.3" cy="248.8" r="0.95"/>
<circle class="dg" cx="451.5" cy="253.8" r="0.95"/>
<circle class="dg" cx="457.0" cy="252.8" r="0.95"/>
<circle class="dg" cx="452.1" cy="255.2" r="0.95"/>
<circle class="dg" cx="459.4" cy="255.2" r="0.95"/>
<circle class="dg" cx="451.7" cy="243.8" r="0.95"/>
<circle class="dg" cx="459.0" cy="246.0" r="0.95"/>
<circle class="dg" cx="448.7" cy="226.2" r="0.95"/>
<circle class="dg" cx="455.9" cy="244.5" r="0.95"/>
<circle class="dg" cx="452.6" cy="255.2" r="0.95"/>
<circle class="dg" cx="451.2" cy="277.5" r="0.95"/>
<circle class="dg" cx="449.6" cy="254.5" r="0.95"/>
<circle class="dg" cx="450.1" cy="214.0" r="0.95"/>
<circle class="dg" cx="454.2" cy="218.2" r="0.95"/>
<circle class="dg" cx="450.7" cy="247.0" r="0.95"/>
<circle class="dg" cx="452.7" cy="268.5" r="0.95"/>
<circle class="dg" cx="450.6" cy="228.0" r="0.95"/>
<circle class="dg" cx="458.8" cy="253.8" r="0.95"/>
<circle class="dg" cx="449.0" cy="229.2" r="0.95"/>
<circle class="dg" cx="451.3" cy="255.5" r="0.95"/>
<circle class="dg" cx="454.1" cy="275.8" r="0.95"/>
<circle class="dg" cx="452.4" cy="250.0" r="0.95"/>
<circle class="dg" cx="453.7" cy="256.5" r="0.95"/>
<circle class="dg" cx="458.6" cy="239.0" r="0.95"/>
<circle class="dg" cx="456.7" cy="223.5" r="0.95"/>
<circle class="dg" cx="455.8" cy="218.8" r="0.95"/>
<circle class="dg" cx="458.2" cy="241.8" r="0.95"/>
<circle class="dg" cx="454.9" cy="218.2" r="0.95"/>
<circle class="dg" cx="458.8" cy="242.2" r="0.95"/>
<circle class="dg" cx="455.5" cy="269.2" r="0.95"/>
<circle class="dg" cx="451.4" cy="234.2" r="0.95"/>
<circle class="dg" cx="453.4" cy="236.2" r="0.95"/>
<circle class="dg" cx="450.9" cy="234.5" r="0.95"/>
<circle class="dg" cx="455.7" cy="254.5" r="0.95"/>
<circle class="dg" cx="459.6" cy="238.0" r="0.95"/>
<circle class="dg" cx="454.9" cy="233.8" r="0.95"/>
<circle class="dg" cx="458.1" cy="228.8" r="0.95"/>
<circle class="dg" cx="451.6" cy="261.0" r="0.95"/>
<circle class="dg" cx="457.7" cy="254.2" r="0.95"/>
<circle class="dg" cx="452.3" cy="237.2" r="0.95"/>
<circle class="dg" cx="458.5" cy="244.8" r="0.95"/>
<circle class="dg" cx="456.2" cy="229.2" r="0.95"/>
<circle class="dg" cx="453.6" cy="248.5" r="0.95"/>
<circle class="dg" cx="458.4" cy="248.0" r="0.95"/>
<circle class="dg" cx="458.4" cy="233.2" r="0.95"/>
<circle class="dg" cx="457.2" cy="240.2" r="0.95"/>
<circle class="dg" cx="450.7" cy="260.5" r="0.95"/>
<circle class="dg" cx="459.6" cy="260.5" r="0.95"/>
<circle class="dg" cx="448.9" cy="238.0" r="0.95"/>
<circle class="dg" cx="459.4" cy="224.0" r="0.95"/>
<circle class="dg" cx="458.7" cy="209.8" r="0.95"/>
<circle class="dg" cx="456.7" cy="228.2" r="0.95"/>
<circle class="dg" cx="450.5" cy="222.2" r="0.95"/>
<circle class="dg" cx="449.6" cy="251.5" r="0.95"/>
<circle class="dg" cx="458.8" cy="239.5" r="0.95"/>
<circle class="dg" cx="458.4" cy="252.8" r="0.95"/>
<circle class="dg" cx="457.9" cy="170.3" r="0.95"/>
<circle class="dg" cx="456.7" cy="189.8" r="0.95"/>
<circle class="dg" cx="455.2" cy="192.8" r="0.95"/>
<circle class="dg" cx="450.0" cy="291.7" r="0.95"/>
<circle class="dg" cx="453.3" cy="203.5" r="0.95"/>
<circle class="dg" cx="452.5" cy="205.2" r="0.95"/>
<circle class="gr" cx="450.3" cy="207.0" r="1.3"/>
<circle class="gr" cx="455.5" cy="209.9" r="1.3"/>
<circle class="gr" cx="450.3" cy="211.0" r="1.3"/>
<circle class="gr" cx="456.1" cy="220.9" r="1.3"/>
<circle class="gr" cx="455.2" cy="227.1" r="1.3"/>
<circle class="gr" cx="457.9" cy="228.2" r="1.3"/>
<circle class="gr" cx="453.8" cy="229.6" r="1.3"/>
<circle class="gr" cx="457.3" cy="233.2" r="1.3"/>
<circle class="gr" cx="449.7" cy="234.1" r="1.3"/>
<circle class="gr" cx="451.4" cy="234.7" r="1.3"/>
<circle class="gr" cx="449.1" cy="267.9" r="1.3"/>
<circle class="gr" cx="449.9" cy="276.7" r="1.3"/>
<circle class="gr" cx="449.9" cy="240.6" r="1.3"/>
<circle class="gr" cx="451.4" cy="237.1" r="1.3"/>
<circle class="gr" cx="455.6" cy="240.6" r="1.3"/>
<circle class="gr" cx="456.0" cy="235.5" r="1.3"/>
<circle class="gr" cx="453.5" cy="233.4" r="1.3"/>
<circle class="gr" cx="459.2" cy="240.9" r="1.3"/>
<circle class="gr" cx="451.0" cy="232.3" r="1.3"/>
<circle class="gr" cx="451.4" cy="235.2" r="1.3"/>
<circle class="gr" cx="458.5" cy="240.1" r="1.3"/>
<circle class="gr" cx="457.8" cy="232.4" r="1.3"/>
<circle class="gr" cx="457.3" cy="238.4" r="1.3"/>
<circle class="gr" cx="455.7" cy="240.9" r="1.3"/>
<circle class="gr" cx="449.2" cy="233.3" r="1.3"/>
<circle class="gr" cx="456.9" cy="240.5" r="1.3"/>
<circle class="gr" cx="456.0" cy="234.7" r="1.3"/>
<circle class="gr" cx="455.1" cy="238.8" r="1.3"/>
<circle class="gr" cx="449.8" cy="234.9" r="1.3"/>
<circle class="gr" cx="451.4" cy="233.1" r="1.3"/>
<circle class="gr" cx="453.9" cy="233.5" r="1.3"/>
<circle class="gr" cx="451.2" cy="233.3" r="1.3"/>
<circle class="gr" cx="456.1" cy="232.1" r="1.3"/>
<circle class="gr" cx="456.5" cy="233.8" r="1.3"/>
<circle class="gr" cx="449.0" cy="251.2" r="1.3"/>
<circle class="gr" cx="451.0" cy="251.3" r="1.3"/>
<circle class="gr" cx="458.1" cy="250.8" r="1.3"/>
<circle class="gr" cx="450.1" cy="245.9" r="1.3"/>
<circle class="gr" cx="449.7" cy="251.2" r="1.3"/>
<circle class="gr" cx="457.9" cy="247.9" r="1.3"/>
<circle class="gr" cx="453.6" cy="244.7" r="1.3"/>
<circle class="gr" cx="457.7" cy="246.3" r="1.3"/>
<circle class="gr" cx="455.5" cy="242.6" r="1.3"/>
<circle class="gr" cx="451.0" cy="241.6" r="1.3"/>
<circle class="gr" cx="456.5" cy="247.1" r="1.3"/>
<circle class="gr" cx="450.2" cy="250.6" r="1.3"/>
<circle class="gr" cx="451.5" cy="245.5" r="1.3"/>
<circle class="gr" cx="450.3" cy="244.0" r="1.3"/>
<circle class="gr" cx="457.8" cy="244.7" r="1.3"/>
<circle class="gr" cx="450.4" cy="246.4" r="1.3"/>
<circle class="gr" cx="452.1" cy="250.9" r="1.3"/>
<circle class="gr" cx="449.9" cy="251.8" r="1.3"/>
<circle class="gr" cx="449.2" cy="250.8" r="1.3"/>
<circle class="gr" cx="456.0" cy="243.3" r="1.3"/>
<circle class="gr" cx="453.9" cy="244.1" r="1.3"/>
<circle class="gr" cx="451.4" cy="243.2" r="1.3"/>
<circle class="gr" cx="452.6" cy="251.9" r="1.3"/>
<circle class="gr" cx="459.6" cy="251.2" r="1.3"/>
<circle class="gr" cx="449.7" cy="244.2" r="1.3"/>
<circle class="gr" cx="458.5" cy="241.6" r="1.3"/>
<circle class="gr" cx="456.6" cy="244.2" r="1.3"/>
<circle class="gr" cx="459.4" cy="241.2" r="1.3"/>
<circle class="gr" cx="457.4" cy="255.2" r="1.3"/>
<circle class="gr" cx="450.3" cy="252.0" r="1.3"/>
<circle class="gr" cx="457.6" cy="257.0" r="1.3"/>
<circle class="gr" cx="450.8" cy="256.1" r="1.3"/>
<circle class="gr" cx="458.5" cy="254.1" r="1.3"/>
<circle class="gr" cx="454.9" cy="253.3" r="1.3"/>
<circle class="gr" cx="450.7" cy="259.3" r="1.3"/>
<circle class="gr" cx="456.3" cy="253.9" r="1.3"/>
<circle class="gr" cx="449.6" cy="252.8" r="1.3"/>
<circle class="gr" cx="455.3" cy="256.7" r="1.3"/>
<circle class="gr" cx="451.7" cy="254.0" r="1.3"/>
<circle class="gr" cx="455.3" cy="258.7" r="1.3"/>
<circle class="gr" cx="457.4" cy="257.5" r="1.3"/>
<circle class="gr" cx="450.9" cy="252.6" r="1.3"/>
<circle class="gr" cx="456.6" cy="255.9" r="1.3"/>
<circle class="gr" cx="456.4" cy="252.5" r="1.3"/>
<circle class="gr" cx="457.4" cy="255.2" r="1.3"/>
<circle class="gr" cx="457.7" cy="260.2" r="1.3"/>
<circle class="rd" cx="448.9" cy="231.5" r="1.3"/>
<circle class="rd" cx="452.6" cy="242.5" r="1.3"/>
<circle class="rd" cx="453.4" cy="255.3" r="1.3"/>
<circle class="rd" cx="454.7" cy="258.8" r="1.3"/>
<circle class="rd" cx="456.1" cy="299.5" r="1.3"/>
</g>
<g id="pf">
<line class="gm" x1="560.3" x2="685.0" y1="186.19" y2="186.19"/>
<line class="gm" x1="560.3" x2="685.0" y1="211.57" y2="211.57"/>
<line class="gm" x1="560.3" x2="685.0" y1="236.95" y2="236.95"/>
<line class="gm" x1="560.3" x2="685.0" y1="262.33" y2="262.33"/>
<line class="gm" x1="560.3" x2="685.0" y1="287.71" y2="287.71"/>
<line class="gM" x1="560.3" x2="685.0" y1="173.50" y2="173.50"/>
<line class="gM" x1="560.3" x2="685.0" y1="198.88" y2="198.88"/>
<line class="gM" x1="560.3" x2="685.0" y1="224.26" y2="224.26"/>
<line class="gM" x1="560.3" x2="685.0" y1="249.64" y2="249.64"/>
<line class="gM" x1="560.3" x2="685.0" y1="275.02" y2="275.02"/>
<line class="gM" x1="560.3" x2="685.0" y1="300.40" y2="300.40"/>
<line class="gM" style="stroke:#f0f0f0" x1="622.60" x2="622.60" y1="164.0" y2="308.0"/>
<text class="ax" x="557.0" y="177.35">150</text>
<text class="ax" x="557.0" y="203.93">140</text>
<text class="ax" x="557.0" y="230.41">130</text>
<text class="ax" x="557.0" y="253.89">120</text>
<text class="ax" x="557.0" y="277.07">110</text>
<text class="ax" x="557.0" y="303.95">100</text>
<text class="at" transform="translate(534.2 234.8) rotate(-90)">Insert Size [bp]</text>
<path class="vio" d="M622.20 170.30 C622.14 170.83 621.98 172.43 621.85 173.50 C621.72 174.57 621.60 175.20 621.40 176.70 C621.20 178.20 620.98 180.55 620.65 182.50 C620.32 184.45 619.76 186.98 619.40 188.40 C619.04 189.82 618.87 190.22 618.50 191.00 C618.13 191.78 617.75 192.43 617.20 193.10 C616.65 193.77 615.97 194.42 615.20 195.00 C614.43 195.58 613.63 196.03 612.60 196.60 C611.57 197.17 610.32 197.82 609.00 198.40 C607.68 198.98 606.15 199.38 604.70 200.10 C603.25 200.82 601.60 201.82 600.30 202.75 C599.00 203.68 597.58 204.86 596.90 205.70 C596.22 206.54 595.92 206.98 596.20 207.80 C596.48 208.62 597.47 209.57 598.60 210.60 C599.73 211.63 601.73 213.00 603.00 214.00 C604.27 215.00 605.70 215.83 606.20 216.60 C606.70 217.37 606.57 217.93 606.00 218.60 C605.43 219.27 605.13 219.67 602.80 220.60 C600.47 221.53 595.90 222.95 592.00 224.20 C588.10 225.45 582.10 227.02 579.40 228.10 C576.70 229.18 575.97 229.88 575.80 230.70 C575.63 231.52 575.37 232.13 578.40 233.00 C581.43 233.87 589.45 234.92 594.00 235.90 C598.55 236.88 602.32 237.75 605.70 238.90 C609.08 240.05 612.22 241.62 614.30 242.80 C616.38 243.98 617.50 244.97 618.20 246.00 C618.90 247.03 618.58 248.00 618.50 249.00 C618.42 250.00 618.05 251.00 617.70 252.00 C617.35 253.00 616.73 254.08 616.40 255.00 C616.07 255.92 615.67 256.58 615.70 257.50 C615.73 258.42 616.20 259.50 616.60 260.50 C617.00 261.50 617.62 262.58 618.10 263.50 C618.58 264.42 619.08 265.17 619.50 266.00 C619.92 266.83 620.30 267.50 620.60 268.50 C620.90 269.50 621.12 270.75 621.30 272.00 C621.48 273.25 621.55 274.08 621.70 276.00 C621.85 277.92 622.12 282.25 622.20 283.50 L623.00 283.50 C623.08 282.25 623.35 277.92 623.50 276.00 C623.65 274.08 623.72 273.25 623.90 272.00 C624.08 270.75 624.30 269.50 624.60 268.50 C624.90 267.50 625.28 266.83 625.70 266.00 C626.12 265.17 626.62 264.42 627.10 263.50 C627.58 262.58 628.20 261.50 628.60 260.50 C629.00 259.50 629.47 258.42 629.50 257.50 C629.53 256.58 629.13 255.92 628.80 255.00 C628.47 254.08 627.85 253.00 627.50 252.00 C627.15 251.00 626.78 250.00 626.70 249.00 C626.62 248.00 626.30 247.03 627.00 246.00 C627.70 244.97 628.82 243.98 630.90 242.80 C632.98 241.62 636.12 240.05 639.50 238.90 C642.88 237.75 646.65 236.88 651.20 235.90 C655.75 234.92 663.77 233.87 666.80 233.00 C669.83 232.13 669.57 231.52 669.40 230.70 C669.23 229.88 668.50 229.18 665.80 228.10 C663.10 227.02 657.10 225.45 653.20 224.20 C649.30 222.95 644.73 221.53 642.40 220.60 C640.07 219.67 639.77 219.27 639.20 218.60 C638.63 217.93 638.50 217.37 639.00 216.60 C639.50 215.83 640.93 215.00 642.20 214.00 C643.47 213.00 645.47 211.63 646.60 210.60 C647.73 209.57 648.72 208.62 649.00 207.80 C649.28 206.98 648.98 206.54 648.30 205.70 C647.62 204.86 646.20 203.68 644.90 202.75 C643.60 201.82 641.95 200.82 640.50 200.10 C639.05 199.38 637.52 198.98 636.20 198.40 C634.88 197.82 633.63 197.17 632.60 196.60 C631.57 196.03 630.77 195.58 630.00 195.00 C629.23 194.42 628.55 193.77 628.00 193.10 C627.45 192.43 627.07 191.78 626.70 191.00 C626.33 190.22 626.16 189.82 625.80 188.40 C625.44 186.98 624.88 184.45 624.55 182.50 C624.22 180.55 624.00 178.20 623.80 176.70 C623.60 175.20 623.48 174.57 623.35 173.50 C623.22 172.43 623.06 170.83 623.00 170.30 Z"/>
<line class="thr" x1="560.6" x2="685.0" y1="300.40" y2="300.40"/>
<line class="box" x1="622.60" x2="622.60" y1="176.00" y2="209.00"/>
<line class="box" x1="622.60" x2="622.60" y1="232.00" y2="265.00"/>
<rect class="box" x="612.10" y="209.00" width="21.50" height="23.00"/>
<line class="box" style="stroke:#3c3c3c;stroke-width:0.85" x1="612.10" x2="633.60" y1="226.20" y2="226.20"/>
<circle class="dg" cx="622.0" cy="230.8" r="0.95"/>
<circle class="dg" cx="625.9" cy="224.2" r="0.95"/>
<circle class="dg" cx="618.7" cy="232.5" r="0.95"/>
<circle class="dg" cx="621.1" cy="230.2" r="0.95"/>
<circle class="dg" cx="619.7" cy="225.8" r="0.95"/>
<circle class="dg" cx="620.8" cy="219.8" r="0.95"/>
<circle class="dg" cx="617.2" cy="220.2" r="0.95"/>
<circle class="dg" cx="623.4" cy="210.8" r="0.95"/>
<circle class="dg" cx="619.0" cy="203.5" r="0.95"/>
<circle class="dg" cx="620.1" cy="231.2" r="0.95"/>
<circle class="dg" cx="619.7" cy="217.2" r="0.95"/>
<circle class="dg" cx="618.0" cy="235.0" r="0.95"/>
<circle class="dg" cx="626.6" cy="229.2" r="0.95"/>
<circle class="dg" cx="621.7" cy="210.8" r="0.95"/>
<circle class="dg" cx="623.9" cy="233.5" r="0.95"/>
<circle class="dg" cx="617.5" cy="219.8" r="0.95"/>
<circle class="dg" cx="621.1" cy="223.0" r="0.95"/>
<circle class="dg" cx="620.3" cy="231.2" r="0.95"/>
<circle class="dg" cx="624.3" cy="221.5" r="0.95"/>
<circle class="dg" cx="620.9" cy="234.2" r="0.95"/>
<circle class="dg" cx="623.5" cy="220.5" r="0.95"/>
<circle class="dg" cx="619.1" cy="239.5" r="0.95"/>
<circle class="dg" cx="625.0" cy="248.0" r="0.95"/>
<circle class="dg" cx="624.5" cy="220.0" r="0.95"/>
<circle class="dg" cx="617.8" cy="217.8" r="0.95"/>
<circle class="dg" cx="621.2" cy="232.5" r="0.95"/>
<circle class="dg" cx="622.6" cy="226.0" r="0.95"/>
<circle class="dg" cx="625.5" cy="238.0" r="0.95"/>
<circle class="dg" cx="623.6" cy="200.0" r="0.95"/>
<circle class="dg" cx="622.2" cy="223.8" r="0.95"/>
<circle class="dg" cx="621.6" cy="235.2" r="0.95"/>
<circle class="dg" cx="627.0" cy="224.2" r="0.95"/>
<circle class="dg" cx="622.5" cy="222.8" r="0.95"/>
<circle class="dg" cx="626.2" cy="225.5" r="0.95"/>
<circle class="dg" cx="625.3" cy="230.0" r="0.95"/>
<circle class="dg" cx="617.5" cy="221.2" r="0.95"/>
<circle class="dg" cx="623.2" cy="230.2" r="0.95"/>
<circle class="dg" cx="625.6" cy="232.8" r="0.95"/>
<circle class="dg" cx="619.5" cy="206.8" r="0.95"/>
<circle class="dg" cx="626.2" cy="204.8" r="0.95"/>
<circle class="dg" cx="618.0" cy="206.0" r="0.95"/>
<circle class="dg" cx="623.3" cy="232.2" r="0.95"/>
<circle class="dg" cx="624.6" cy="203.2" r="0.95"/>
<circle class="dg" cx="622.4" cy="231.2" r="0.95"/>
<circle class="dg" cx="624.7" cy="203.2" r="0.95"/>
<circle class="dg" cx="623.5" cy="222.0" r="0.95"/>
<circle class="dg" cx="626.1" cy="270.2" r="0.95"/>
<circle class="dg" cx="618.6" cy="236.5" r="0.95"/>
<circle class="dg" cx="622.8" cy="218.0" r="0.95"/>
<circle class="dg" cx="628.1" cy="190.5" r="0.95"/>
<circle class="dg" cx="619.9" cy="214.5" r="0.95"/>
<circle class="dg" cx="619.9" cy="216.8" r="0.95"/>
<circle class="dg" cx="623.2" cy="236.0" r="0.95"/>
<circle class="dg" cx="621.7" cy="225.5" r="0.95"/>
<circle class="dg" cx="620.4" cy="203.0" r="0.95"/>
<circle class="dg" cx="626.0" cy="236.2" r="0.95"/>
<circle class="dg" cx="619.9" cy="235.8" r="0.95"/>
<circle class="dg" cx="617.6" cy="210.8" r="0.95"/>
<circle class="dg" cx="621.2" cy="226.2" r="0.95"/>
<circle class="dg" cx="622.5" cy="223.8" r="0.95"/>
<circle class="dg" cx="621.1" cy="227.8" r="0.95"/>
<circle class="dg" cx="619.2" cy="233.8" r="0.95"/>
<circle class="dg" cx="623.2" cy="239.0" r="0.95"/>
<circle class="dg" cx="620.5" cy="203.0" r="0.95"/>
<circle class="dg" cx="621.6" cy="226.2" r="0.95"/>
<circle class="dg" cx="620.6" cy="227.2" r="0.95"/>
<circle class="dg" cx="625.9" cy="214.2" r="0.95"/>
<circle class="dg" cx="625.0" cy="215.5" r="0.95"/>
<circle class="dg" cx="623.6" cy="233.8" r="0.95"/>
<circle class="dg" cx="627.5" cy="223.5" r="0.95"/>
<circle class="dg" cx="626.8" cy="223.0" r="0.95"/>
<circle class="dg" cx="621.9" cy="203.5" r="0.95"/>
<circle class="dg" cx="617.5" cy="229.2" r="0.95"/>
<circle class="dg" cx="617.8" cy="236.0" r="0.95"/>
<circle class="dg" cx="619.0" cy="228.2" r="0.95"/>
<circle class="dg" cx="623.3" cy="239.2" r="0.95"/>
<circle class="dg" cx="622.6" cy="233.8" r="0.95"/>
<circle class="dg" cx="624.6" cy="230.2" r="0.95"/>
<circle class="dg" cx="619.4" cy="215.5" r="0.95"/>
<circle class="dg" cx="618.6" cy="235.2" r="0.95"/>
<circle class="dg" cx="619.3" cy="239.0" r="0.95"/>
<circle class="dg" cx="618.1" cy="206.0" r="0.95"/>
<circle class="dg" cx="627.6" cy="233.2" r="0.95"/>
<circle class="dg" cx="624.4" cy="221.8" r="0.95"/>
<circle class="dg" cx="627.1" cy="213.5" r="0.95"/>
<circle class="dg" cx="618.7" cy="230.5" r="0.95"/>
<circle class="dg" cx="624.8" cy="203.5" r="0.95"/>
<circle class="dg" cx="626.4" cy="202.2" r="0.95"/>
<circle class="dg" cx="619.6" cy="215.5" r="0.95"/>
<circle class="dg" cx="620.6" cy="227.8" r="0.95"/>
<circle class="dg" cx="618.7" cy="227.0" r="0.95"/>
<circle class="dg" cx="620.6" cy="238.5" r="0.95"/>
<circle class="dg" cx="618.7" cy="235.2" r="0.95"/>
<circle class="dg" cx="628.0" cy="233.8" r="0.95"/>
<circle class="dg" cx="617.4" cy="220.8" r="0.95"/>
<circle class="dg" cx="624.2" cy="220.2" r="0.95"/>
<circle class="dg" cx="623.1" cy="211.8" r="0.95"/>
<circle class="dg" cx="622.2" cy="205.5" r="0.95"/>
<circle class="dg" cx="621.8" cy="231.5" r="0.95"/>
<circle class="dg" cx="618.3" cy="230.2" r="0.95"/>
<circle class="dg" cx="618.4" cy="234.8" r="0.95"/>
<circle class="dg" cx="628.2" cy="239.2" r="0.95"/>
<circle class="dg" cx="622.9" cy="240.8" r="0.95"/>
<circle class="dg" cx="620.9" cy="215.2" r="0.95"/>
<circle class="dg" cx="622.6" cy="232.2" r="0.95"/>
<circle class="dg" cx="618.0" cy="239.8" r="0.95"/>
<circle class="dg" cx="626.7" cy="224.5" r="0.95"/>
<circle class="dg" cx="623.1" cy="228.2" r="0.95"/>
<circle class="dg" cx="618.6" cy="205.2" r="0.95"/>
<circle class="dg" cx="627.0" cy="214.2" r="0.95"/>
<circle class="dg" cx="619.5" cy="235.5" r="0.95"/>
<circle class="dg" cx="617.4" cy="239.5" r="0.95"/>
<circle class="dg" cx="627.8" cy="228.2" r="0.95"/>
<circle class="dg" cx="627.6" cy="218.5" r="0.95"/>
<circle class="dg" cx="617.6" cy="229.8" r="0.95"/>
<circle class="dg" cx="622.0" cy="217.8" r="0.95"/>
<circle class="dg" cx="625.3" cy="213.0" r="0.95"/>
<circle class="dg" cx="625.8" cy="209.8" r="0.95"/>
<circle class="dg" cx="617.8" cy="215.8" r="0.95"/>
<circle class="dg" cx="618.1" cy="227.0" r="0.95"/>
<circle class="dg" cx="625.8" cy="226.8" r="0.95"/>
<circle class="dg" cx="622.2" cy="228.0" r="0.95"/>
<circle class="dg" cx="622.7" cy="201.5" r="0.95"/>
<circle class="dg" cx="624.2" cy="205.8" r="0.95"/>
<circle class="dg" cx="623.5" cy="207.5" r="0.95"/>
<circle class="dg" cx="621.2" cy="219.0" r="0.95"/>
<circle class="dg" cx="618.8" cy="230.0" r="0.95"/>
<circle class="dg" cx="627.5" cy="209.2" r="0.95"/>
<circle class="dg" cx="626.4" cy="217.8" r="0.95"/>
<circle class="dg" cx="622.4" cy="236.5" r="0.95"/>
<circle class="dg" cx="618.1" cy="208.2" r="0.95"/>
<circle class="dg" cx="618.3" cy="236.8" r="0.95"/>
<circle class="dg" cx="623.0" cy="225.0" r="0.95"/>
<circle class="dg" cx="622.2" cy="206.8" r="0.95"/>
<circle class="dg" cx="623.0" cy="209.0" r="0.95"/>
<circle class="dg" cx="621.1" cy="225.5" r="0.95"/>
<circle class="dg" cx="621.5" cy="210.5" r="0.95"/>
<circle class="dg" cx="618.4" cy="210.8" r="0.95"/>
<circle class="dg" cx="626.8" cy="212.5" r="0.95"/>
<circle class="dg" cx="627.0" cy="225.2" r="0.95"/>
<circle class="dg" cx="627.6" cy="196.5" r="0.95"/>
<circle class="dg" cx="625.9" cy="224.8" r="0.95"/>
<circle class="dg" cx="624.7" cy="227.5" r="0.95"/>
<circle class="dg" cx="625.4" cy="212.0" r="0.95"/>
<circle class="dg" cx="620.0" cy="208.5" r="0.95"/>
<circle class="dg" cx="621.4" cy="201.0" r="0.95"/>
<circle class="dg" cx="620.3" cy="225.8" r="0.95"/>
<circle class="dg" cx="617.9" cy="237.2" r="0.95"/>
<circle class="dg" cx="619.6" cy="227.8" r="0.95"/>
<circle class="dg" cx="625.8" cy="228.0" r="0.95"/>
<circle class="dg" cx="617.7" cy="231.2" r="0.95"/>
<circle class="dg" cx="623.7" cy="212.8" r="0.95"/>
<circle class="dg" cx="617.5" cy="256.0" r="0.95"/>
<circle class="dg" cx="624.7" cy="228.8" r="0.95"/>
<circle class="dg" cx="620.8" cy="234.2" r="0.95"/>
<circle class="dg" cx="622.2" cy="234.2" r="0.95"/>
<circle class="dg" cx="617.1" cy="239.2" r="0.95"/>
<circle class="dg" cx="621.6" cy="240.8" r="0.95"/>
<circle class="dg" cx="618.0" cy="221.5" r="0.95"/>
<circle class="dg" cx="625.2" cy="212.8" r="0.95"/>
<circle class="dg" cx="618.7" cy="230.2" r="0.95"/>
<circle class="dg" cx="618.6" cy="218.5" r="0.95"/>
<circle class="dg" cx="619.5" cy="210.5" r="0.95"/>
<circle class="dg" cx="627.9" cy="217.8" r="0.95"/>
<circle class="dg" cx="625.9" cy="268.2" r="0.95"/>
<circle class="dg" cx="622.6" cy="224.5" r="0.95"/>
<circle class="dg" cx="627.2" cy="233.0" r="0.95"/>
<circle class="dg" cx="624.1" cy="232.2" r="0.95"/>
<circle class="dg" cx="624.0" cy="210.5" r="0.95"/>
<circle class="dg" cx="625.8" cy="235.5" r="0.95"/>
<circle class="dg" cx="625.0" cy="205.5" r="0.95"/>
<circle class="dg" cx="618.8" cy="218.8" r="0.95"/>
<circle class="dg" cx="624.5" cy="246.0" r="0.95"/>
<circle class="dg" cx="618.5" cy="232.0" r="0.95"/>
<circle class="dg" cx="627.5" cy="234.8" r="0.95"/>
<circle class="dg" cx="625.3" cy="238.2" r="0.95"/>
<circle class="dg" cx="626.0" cy="235.0" r="0.95"/>
<circle class="dg" cx="621.9" cy="228.0" r="0.95"/>
<circle class="dg" cx="625.8" cy="234.8" r="0.95"/>
<circle class="dg" cx="620.3" cy="236.5" r="0.95"/>
<circle class="dg" cx="623.0" cy="244.5" r="0.95"/>
<circle class="dg" cx="618.3" cy="241.5" r="0.95"/>
<circle class="dg" cx="625.8" cy="246.8" r="0.95"/>
<circle class="dg" cx="626.4" cy="213.2" r="0.95"/>
<circle class="dg" cx="619.2" cy="212.0" r="0.95"/>
<circle class="dg" cx="619.7" cy="223.5" r="0.95"/>
<circle class="dg" cx="627.2" cy="225.0" r="0.95"/>
<circle class="dg" cx="625.0" cy="230.5" r="0.95"/>
<circle class="dg" cx="625.8" cy="220.8" r="0.95"/>
<circle class="dg" cx="624.6" cy="233.5" r="0.95"/>
<circle class="dg" cx="626.2" cy="241.0" r="0.95"/>
<circle class="dg" cx="618.0" cy="221.5" r="0.95"/>
<circle class="dg" cx="626.4" cy="229.8" r="0.95"/>
<circle class="dg" cx="623.7" cy="218.2" r="0.95"/>
<circle class="dg" cx="625.9" cy="235.0" r="0.95"/>
<circle class="dg" cx="622.5" cy="187.8" r="0.95"/>
<circle class="dg" cx="618.2" cy="197.0" r="0.95"/>
<circle class="dg" cx="621.7" cy="234.2" r="0.95"/>
<circle class="dg" cx="622.1" cy="228.2" r="0.95"/>
<circle class="dg" cx="619.4" cy="218.0" r="0.95"/>
<circle class="dg" cx="626.5" cy="219.0" r="0.95"/>
<circle class="dg" cx="620.3" cy="228.8" r="0.95"/>
<circle class="dg" cx="620.0" cy="205.2" r="0.95"/>
<circle class="dg" cx="622.0" cy="231.0" r="0.95"/>
<circle class="dg" cx="626.0" cy="229.8" r="0.95"/>
<circle class="dg" cx="624.6" cy="207.0" r="0.95"/>
<circle class="dg" cx="626.2" cy="202.2" r="0.95"/>
<circle class="dg" cx="620.0" cy="210.0" r="0.95"/>
<circle class="dg" cx="621.1" cy="243.8" r="0.95"/>
<circle class="dg" cx="627.0" cy="211.8" r="0.95"/>
<circle class="dg" cx="627.0" cy="228.5" r="0.95"/>
<circle class="dg" cx="622.6" cy="221.0" r="0.95"/>
<circle class="dg" cx="622.7" cy="243.5" r="0.95"/>
<circle class="dg" cx="619.1" cy="260.2" r="0.95"/>
<circle class="dg" cx="618.8" cy="234.8" r="0.95"/>
<circle class="dg" cx="617.0" cy="226.0" r="0.95"/>
<circle class="dg" cx="627.6" cy="209.5" r="0.95"/>
<circle class="dg" cx="626.1" cy="223.5" r="0.95"/>
<circle class="dg" cx="620.9" cy="213.0" r="0.95"/>
<circle class="dg" cx="623.2" cy="206.0" r="0.95"/>
<circle class="dg" cx="622.8" cy="236.0" r="0.95"/>
<circle class="dg" cx="627.4" cy="220.0" r="0.95"/>
<circle class="dg" cx="624.5" cy="237.5" r="0.95"/>
<circle class="dg" cx="624.0" cy="204.8" r="0.95"/>
<circle class="dg" cx="627.7" cy="223.0" r="0.95"/>
<circle class="dg" cx="624.4" cy="219.5" r="0.95"/>
<circle class="dg" cx="621.2" cy="229.0" r="0.95"/>
<circle class="dg" cx="624.6" cy="226.0" r="0.95"/>
<circle class="dg" cx="622.6" cy="238.2" r="0.95"/>
<circle class="dg" cx="627.9" cy="219.5" r="0.95"/>
<circle class="dg" cx="626.3" cy="203.5" r="0.95"/>
<circle class="dg" cx="623.2" cy="230.5" r="0.95"/>
<circle class="dg" cx="625.4" cy="223.2" r="0.95"/>
<circle class="dg" cx="625.2" cy="237.5" r="0.95"/>
<circle class="dg" cx="617.4" cy="232.2" r="0.95"/>
<circle class="dg" cx="618.5" cy="217.5" r="0.95"/>
<circle class="dg" cx="627.0" cy="242.8" r="0.95"/>
<circle class="dg" cx="623.6" cy="208.0" r="0.95"/>
<circle class="dg" cx="617.5" cy="227.5" r="0.95"/>
<circle class="dg" cx="625.4" cy="220.8" r="0.95"/>
<circle class="dg" cx="620.1" cy="229.2" r="0.95"/>
<circle class="dg" cx="620.3" cy="232.5" r="0.95"/>
<circle class="dg" cx="621.7" cy="226.5" r="0.95"/>
<circle class="dg" cx="624.3" cy="252.5" r="0.95"/>
<circle class="dg" cx="624.6" cy="234.0" r="0.95"/>
<circle class="dg" cx="627.8" cy="220.2" r="0.95"/>
<circle class="dg" cx="624.7" cy="231.0" r="0.95"/>
<circle class="dg" cx="618.8" cy="214.5" r="0.95"/>
<circle class="dg" cx="626.2" cy="227.5" r="0.95"/>
<circle class="dg" cx="620.9" cy="233.5" r="0.95"/>
<circle class="dg" cx="622.8" cy="207.8" r="0.95"/>
<circle class="dg" cx="618.8" cy="236.8" r="0.95"/>
<circle class="dg" cx="618.9" cy="232.0" r="0.95"/>
<circle class="dg" cx="617.6" cy="216.8" r="0.95"/>
<circle class="dg" cx="621.3" cy="215.8" r="0.95"/>
<circle class="dg" cx="627.8" cy="246.2" r="0.95"/>
<circle class="dg" cx="620.5" cy="210.0" r="0.95"/>
<circle class="dg" cx="619.2" cy="241.2" r="0.95"/>
<circle class="dg" cx="621.9" cy="217.2" r="0.95"/>
<circle class="dg" cx="619.9" cy="206.2" r="0.95"/>
<circle class="dg" cx="621.3" cy="221.0" r="0.95"/>
<circle class="dg" cx="620.0" cy="245.2" r="0.95"/>
<circle class="dg" cx="627.2" cy="210.8" r="0.95"/>
<circle class="dg" cx="626.4" cy="223.2" r="0.95"/>
<circle class="dg" cx="625.7" cy="229.2" r="0.95"/>
<circle class="dg" cx="618.7" cy="216.8" r="0.95"/>
<circle class="dg" cx="622.3" cy="232.5" r="0.95"/>
<circle class="dg" cx="624.5" cy="227.0" r="0.95"/>
<circle class="dg" cx="620.1" cy="232.2" r="0.95"/>
<circle class="dg" cx="627.3" cy="219.5" r="0.95"/>
<circle class="dg" cx="620.2" cy="226.2" r="0.95"/>
<circle class="dg" cx="619.9" cy="229.0" r="0.95"/>
<circle class="dg" cx="617.5" cy="233.0" r="0.95"/>
<circle class="dg" cx="623.3" cy="234.8" r="0.95"/>
<circle class="dg" cx="627.5" cy="219.0" r="0.95"/>
<circle class="dg" cx="619.7" cy="213.8" r="0.95"/>
<circle class="dg" cx="623.1" cy="204.2" r="0.95"/>
<circle class="dg" cx="624.6" cy="232.2" r="0.95"/>
<circle class="dg" cx="626.0" cy="221.8" r="0.95"/>
<circle class="dg" cx="620.4" cy="206.5" r="0.95"/>
<circle class="dg" cx="627.8" cy="229.5" r="0.95"/>
<circle class="dg" cx="624.8" cy="229.2" r="0.95"/>
<circle class="dg" cx="621.4" cy="233.0" r="0.95"/>
<circle class="dg" cx="625.3" cy="240.8" r="0.95"/>
<circle class="dg" cx="621.4" cy="218.2" r="0.95"/>
<circle class="dg" cx="620.9" cy="234.0" r="0.95"/>
<circle class="dg" cx="626.8" cy="210.0" r="0.95"/>
<circle class="dg" cx="622.8" cy="226.2" r="0.95"/>
<circle class="dg" cx="627.1" cy="230.0" r="0.95"/>
<circle class="dg" cx="620.8" cy="207.5" r="0.95"/>
<circle class="dg" cx="621.6" cy="204.0" r="0.95"/>
<circle class="dg" cx="626.5" cy="225.2" r="0.95"/>
<circle class="dg" cx="623.5" cy="230.0" r="0.95"/>
<circle class="dg" cx="623.4" cy="221.2" r="0.95"/>
<circle class="dg" cx="626.5" cy="214.2" r="0.95"/>
<circle class="dg" cx="626.4" cy="233.5" r="0.95"/>
<circle class="dg" cx="624.5" cy="208.5" r="0.95"/>
<circle class="dg" cx="622.6" cy="232.2" r="0.95"/>
<circle class="dg" cx="627.1" cy="237.8" r="0.95"/>
<circle class="dg" cx="626.2" cy="232.0" r="0.95"/>
<circle class="dg" cx="626.8" cy="229.5" r="0.95"/>
<circle class="dg" cx="624.9" cy="207.5" r="0.95"/>
<circle class="dg" cx="623.9" cy="231.0" r="0.95"/>
<circle class="dg" cx="617.8" cy="214.5" r="0.95"/>
<circle class="dg" cx="626.2" cy="228.2" r="0.95"/>
<circle class="dg" cx="619.4" cy="214.2" r="0.95"/>
<circle class="dg" cx="618.1" cy="211.8" r="0.95"/>
<circle class="dg" cx="627.9" cy="230.2" r="0.95"/>
<circle class="dg" cx="621.0" cy="233.8" r="0.95"/>
<circle class="dg" cx="617.8" cy="230.8" r="0.95"/>
<circle class="dg" cx="620.6" cy="235.2" r="0.95"/>
<circle class="dg" cx="624.0" cy="185.2" r="0.95"/>
<circle class="dg" cx="620.1" cy="207.8" r="0.95"/>
<circle class="dg" cx="622.0" cy="203.8" r="0.95"/>
<circle class="dg" cx="626.0" cy="227.0" r="0.95"/>
<circle class="dg" cx="626.3" cy="202.0" r="0.95"/>
<circle class="dg" cx="619.5" cy="206.5" r="0.95"/>
<circle class="dg" cx="620.8" cy="229.0" r="0.95"/>
<circle class="dg" cx="623.4" cy="217.8" r="0.95"/>
<circle class="dg" cx="625.9" cy="211.5" r="0.95"/>
<circle class="dg" cx="626.4" cy="211.0" r="0.95"/>
<circle class="dg" cx="623.0" cy="234.0" r="0.95"/>
<circle class="dg" cx="625.7" cy="201.0" r="0.95"/>
<circle class="dg" cx="622.7" cy="200.5" r="0.95"/>
<circle class="dg" cx="617.7" cy="222.2" r="0.95"/>
<circle class="dg" cx="625.1" cy="229.0" r="0.95"/>
<circle class="dg" cx="621.5" cy="227.8" r="0.95"/>
<circle class="dg" cx="623.6" cy="225.5" r="0.95"/>
<circle class="dg" cx="626.7" cy="211.8" r="0.95"/>
<circle class="dg" cx="626.0" cy="266.0" r="0.95"/>
<circle class="dg" cx="620.7" cy="244.8" r="0.95"/>
<circle class="dg" cx="617.8" cy="258.5" r="0.95"/>
<circle class="dg" cx="618.5" cy="224.2" r="0.95"/>
<circle class="dg" cx="624.6" cy="223.5" r="0.95"/>
<circle class="dg" cx="622.1" cy="231.0" r="0.95"/>
<circle class="dg" cx="619.1" cy="218.2" r="0.95"/>
<circle class="dg" cx="620.2" cy="221.2" r="0.95"/>
<circle class="dg" cx="625.2" cy="210.2" r="0.95"/>
<circle class="dg" cx="621.9" cy="225.8" r="0.95"/>
<circle class="dg" cx="624.9" cy="210.5" r="0.95"/>
<circle class="dg" cx="620.0" cy="210.5" r="0.95"/>
<circle class="dg" cx="624.9" cy="227.0" r="0.95"/>
<circle class="dg" cx="625.4" cy="248.8" r="0.95"/>
<circle class="dg" cx="627.3" cy="242.0" r="0.95"/>
<circle class="dg" cx="625.1" cy="231.5" r="0.95"/>
<circle class="dg" cx="619.3" cy="204.0" r="0.95"/>
<circle class="dg" cx="626.7" cy="195.5" r="0.95"/>
<circle class="dg" cx="624.1" cy="231.5" r="0.95"/>
<circle class="dg" cx="621.0" cy="213.8" r="0.95"/>
<circle class="dg" cx="624.1" cy="209.0" r="0.95"/>
<circle class="dg" cx="620.4" cy="262.5" r="0.95"/>
<circle class="dg" cx="619.0" cy="202.5" r="0.95"/>
<circle class="dg" cx="627.1" cy="219.0" r="0.95"/>
<circle class="dg" cx="622.1" cy="234.0" r="0.95"/>
<circle class="dg" cx="618.2" cy="206.0" r="0.95"/>
<circle class="dg" cx="625.7" cy="208.5" r="0.95"/>
<circle class="dg" cx="628.1" cy="224.0" r="0.95"/>
<circle class="dg" cx="625.9" cy="238.5" r="0.95"/>
<circle class="dg" cx="626.2" cy="224.2" r="0.95"/>
<circle class="dg" cx="618.2" cy="207.2" r="0.95"/>
<circle class="dg" cx="622.7" cy="227.2" r="0.95"/>
<circle class="dg" cx="619.8" cy="211.0" r="0.95"/>
<circle class="dg" cx="627.2" cy="198.8" r="0.95"/>
<circle class="dg" cx="627.6" cy="231.0" r="0.95"/>
<circle class="dg" cx="621.9" cy="254.2" r="0.95"/>
<circle class="dg" cx="621.3" cy="231.8" r="0.95"/>
<circle class="dg" cx="626.4" cy="234.2" r="0.95"/>
<circle class="dg" cx="617.1" cy="207.5" r="0.95"/>
<circle class="dg" cx="623.6" cy="211.2" r="0.95"/>
<circle class="dg" cx="617.1" cy="220.2" r="0.95"/>
<circle class="dg" cx="625.8" cy="234.8" r="0.95"/>
<circle class="dg" cx="617.5" cy="223.8" r="0.95"/>
<circle class="dg" cx="623.0" cy="237.2" r="0.95"/>
<circle class="dg" cx="620.6" cy="204.5" r="0.95"/>
<circle class="dg" cx="626.9" cy="229.0" r="0.95"/>
<circle class="dg" cx="624.2" cy="224.5" r="0.95"/>
<circle class="dg" cx="619.7" cy="210.8" r="0.95"/>
<circle class="dg" cx="621.3" cy="238.2" r="0.95"/>
<circle class="dg" cx="623.6" cy="206.0" r="0.95"/>
<circle class="dg" cx="619.2" cy="207.2" r="0.95"/>
<circle class="dg" cx="623.6" cy="223.5" r="0.95"/>
<circle class="dg" cx="624.9" cy="229.2" r="0.95"/>
<circle class="dg" cx="617.8" cy="222.8" r="0.95"/>
<circle class="dg" cx="617.6" cy="231.5" r="0.95"/>
<circle class="dg" cx="621.5" cy="224.0" r="0.95"/>
<circle class="dg" cx="625.0" cy="230.2" r="0.95"/>
<circle class="dg" cx="624.3" cy="212.5" r="0.95"/>
<circle class="dg" cx="622.3" cy="230.8" r="0.95"/>
<circle class="dg" cx="627.2" cy="208.0" r="0.95"/>
<circle class="dg" cx="617.7" cy="228.2" r="0.95"/>
<circle class="dg" cx="628.1" cy="212.5" r="0.95"/>
<circle class="dg" cx="621.4" cy="212.0" r="0.95"/>
<circle class="dg" cx="626.2" cy="233.5" r="0.95"/>
<circle class="dg" cx="625.3" cy="229.2" r="0.95"/>
<circle class="dg" cx="618.1" cy="202.0" r="0.95"/>
<circle class="dg" cx="626.0" cy="250.8" r="0.95"/>
<circle class="dg" cx="617.5" cy="202.0" r="0.95"/>
<circle class="dg" cx="627.4" cy="212.5" r="0.95"/>
<circle class="dg" cx="624.5" cy="211.5" r="0.95"/>
<circle class="dg" cx="624.2" cy="239.8" r="0.95"/>
<circle class="dg" cx="619.9" cy="239.0" r="0.95"/>
<circle class="dg" cx="617.2" cy="208.5" r="0.95"/>
<circle class="dg" cx="618.2" cy="232.5" r="0.95"/>
<circle class="dg" cx="625.0" cy="248.8" r="0.95"/>
<circle class="dg" cx="626.0" cy="210.0" r="0.95"/>
<circle class="dg" cx="622.7" cy="209.0" r="0.95"/>
<circle class="dg" cx="625.8" cy="206.2" r="0.95"/>
<circle class="dg" cx="627.3" cy="237.2" r="0.95"/>
<circle class="dg" cx="626.5" cy="182.0" r="0.95"/>
<circle class="dg" cx="626.2" cy="227.0" r="0.95"/>
<circle class="dg" cx="623.9" cy="225.2" r="0.95"/>
<circle class="dg" cx="626.0" cy="228.0" r="0.95"/>
<circle class="dg" cx="617.6" cy="204.8" r="0.95"/>
<circle class="dg" cx="620.3" cy="226.8" r="0.95"/>
<circle class="dg" cx="617.1" cy="221.0" r="0.95"/>
<circle class="dg" cx="617.3" cy="232.0" r="0.95"/>
<circle class="dg" cx="626.1" cy="234.8" r="0.95"/>
<circle class="dg" cx="618.4" cy="223.5" r="0.95"/>
<circle class="dg" cx="619.3" cy="229.5" r="0.95"/>
<circle class="dg" cx="618.2" cy="222.5" r="0.95"/>
<circle class="dg" cx="623.1" cy="251.0" r="0.95"/>
<circle class="dg" cx="618.1" cy="219.0" r="0.95"/>
<circle class="dg" cx="626.5" cy="231.8" r="0.95"/>
<circle class="dg" cx="618.1" cy="235.5" r="0.95"/>
<circle class="dg" cx="620.4" cy="219.8" r="0.95"/>
<circle class="dg" cx="618.7" cy="232.5" r="0.95"/>
<circle class="dg" cx="628.0" cy="228.5" r="0.95"/>
<circle class="dg" cx="617.1" cy="232.8" r="0.95"/>
<circle class="dg" cx="618.3" cy="204.5" r="0.95"/>
<circle class="dg" cx="623.7" cy="230.8" r="0.95"/>
<circle class="dg" cx="622.1" cy="225.8" r="0.95"/>
<circle class="dg" cx="623.8" cy="221.5" r="0.95"/>
<circle class="dg" cx="627.3" cy="229.5" r="0.95"/>
<circle class="dg" cx="625.9" cy="231.8" r="0.95"/>
<circle class="dg" cx="626.4" cy="238.5" r="0.95"/>
<circle class="dg" cx="617.3" cy="231.2" r="0.95"/>
<circle class="dg" cx="626.5" cy="230.2" r="0.95"/>
<circle class="dg" cx="626.8" cy="222.5" r="0.95"/>
<circle class="dg" cx="627.6" cy="209.8" r="0.95"/>
<circle class="dg" cx="624.9" cy="223.0" r="0.95"/>
<circle class="dg" cx="620.4" cy="213.2" r="0.95"/>
<circle class="dg" cx="620.6" cy="218.8" r="0.95"/>
<circle class="dg" cx="622.0" cy="205.8" r="0.95"/>
<circle class="dg" cx="624.3" cy="254.5" r="0.95"/>
<circle class="dg" cx="625.5" cy="240.0" r="0.95"/>
<circle class="dg" cx="628.1" cy="235.0" r="0.95"/>
<circle class="dg" cx="620.1" cy="232.2" r="0.95"/>
<circle class="dg" cx="621.6" cy="213.0" r="0.95"/>
<circle class="dg" cx="619.6" cy="198.5" r="0.95"/>
<circle class="dg" cx="627.3" cy="237.2" r="0.95"/>
<circle class="dg" cx="625.6" cy="217.8" r="0.95"/>
<circle class="dg" cx="627.0" cy="233.0" r="0.95"/>
<circle class="dg" cx="623.0" cy="233.5" r="0.95"/>
<circle class="dg" cx="626.2" cy="206.2" r="0.95"/>
<circle class="dg" cx="624.0" cy="216.8" r="0.95"/>
<circle class="dg" cx="623.0" cy="219.8" r="0.95"/>
<circle class="dg" cx="618.8" cy="246.0" r="0.95"/>
<circle class="dg" cx="624.3" cy="226.2" r="0.95"/>
<circle class="dg" cx="627.5" cy="226.5" r="0.95"/>
<circle class="dg" cx="627.2" cy="221.5" r="0.95"/>
<circle class="dg" cx="627.8" cy="230.5" r="0.95"/>
<circle class="dg" cx="619.4" cy="205.5" r="0.95"/>
<circle class="dg" cx="627.2" cy="215.2" r="0.95"/>
<circle class="dg" cx="619.9" cy="195.8" r="0.95"/>
<circle class="dg" cx="628.1" cy="231.2" r="0.95"/>
<circle class="dg" cx="621.9" cy="209.5" r="0.95"/>
<circle class="dg" cx="624.7" cy="230.5" r="0.95"/>
<circle class="dg" cx="625.4" cy="232.0" r="0.95"/>
<circle class="dg" cx="619.9" cy="213.0" r="0.95"/>
<circle class="dg" cx="624.7" cy="200.5" r="0.95"/>
<circle class="dg" cx="619.9" cy="211.0" r="0.95"/>
<circle class="dg" cx="624.2" cy="245.5" r="0.95"/>
<circle class="dg" cx="624.3" cy="228.0" r="0.95"/>
<circle class="dg" cx="624.8" cy="228.2" r="0.95"/>
<circle class="dg" cx="617.7" cy="216.2" r="0.95"/>
<circle class="dg" cx="617.2" cy="204.2" r="0.95"/>
<circle class="dg" cx="618.6" cy="219.2" r="0.95"/>
<circle class="dg" cx="622.5" cy="206.5" r="0.95"/>
<circle class="dg" cx="624.7" cy="247.2" r="0.95"/>
<circle class="dg" cx="625.6" cy="214.2" r="0.95"/>
<circle class="dg" cx="618.1" cy="209.5" r="0.95"/>
<circle class="dg" cx="621.6" cy="216.0" r="0.95"/>
<circle class="dg" cx="622.0" cy="230.5" r="0.95"/>
<circle class="dg" cx="618.1" cy="231.5" r="0.95"/>
<circle class="dg" cx="620.8" cy="240.0" r="0.95"/>
<circle class="dg" cx="617.3" cy="235.0" r="0.95"/>
<circle class="dg" cx="619.5" cy="234.8" r="0.95"/>
<circle class="dg" cx="626.0" cy="235.8" r="0.95"/>
<circle class="dg" cx="620.1" cy="230.0" r="0.95"/>
<circle class="dg" cx="619.1" cy="193.8" r="0.95"/>
<circle class="dg" cx="618.8" cy="238.2" r="0.95"/>
<circle class="dg" cx="623.6" cy="229.8" r="0.95"/>
<circle class="dg" cx="619.0" cy="229.8" r="0.95"/>
<circle class="dg" cx="618.1" cy="208.0" r="0.95"/>
<circle class="dg" cx="621.3" cy="255.8" r="0.95"/>
<circle class="dg" cx="623.4" cy="229.8" r="0.95"/>
<circle class="dg" cx="617.7" cy="211.8" r="0.95"/>
<circle class="dg" cx="626.5" cy="196.2" r="0.95"/>
<circle class="dg" cx="627.8" cy="207.5" r="0.95"/>
<circle class="dg" cx="625.1" cy="219.5" r="0.95"/>
<circle class="dg" cx="625.8" cy="207.8" r="0.95"/>
<circle class="dg" cx="621.1" cy="213.0" r="0.95"/>
<circle class="dg" cx="618.2" cy="226.0" r="0.95"/>
<circle class="dg" cx="625.9" cy="213.0" r="0.95"/>
<circle class="dg" cx="621.3" cy="215.0" r="0.95"/>
<circle class="dg" cx="619.5" cy="232.8" r="0.95"/>
<circle class="dg" cx="619.5" cy="210.2" r="0.95"/>
<circle class="dg" cx="621.1" cy="220.5" r="0.95"/>
<circle class="dg" cx="622.3" cy="229.2" r="0.95"/>
<circle class="dg" cx="617.6" cy="236.5" r="0.95"/>
<circle class="dg" cx="626.4" cy="230.0" r="0.95"/>
<circle class="dg" cx="617.3" cy="212.2" r="0.95"/>
<circle class="dg" cx="618.3" cy="222.8" r="0.95"/>
<circle class="dg" cx="625.0" cy="223.8" r="0.95"/>
<circle class="dg" cx="618.3" cy="205.5" r="0.95"/>
<circle class="dg" cx="618.9" cy="224.5" r="0.95"/>
<circle class="dg" cx="621.9" cy="212.0" r="0.95"/>
<circle class="dg" cx="617.8" cy="206.8" r="0.95"/>
<circle class="dg" cx="622.3" cy="219.2" r="0.95"/>
<circle class="dg" cx="623.2" cy="240.5" r="0.95"/>
<circle class="gr" cx="627.4" cy="179.4" r="1.3"/>
<circle class="gr" cx="623.4" cy="182.0" r="1.3"/>
<circle class="gr" cx="619.0" cy="186.1" r="1.3"/>
<circle class="gr" cx="623.1" cy="190.4" r="1.3"/>
<circle class="gr" cx="617.9" cy="191.3" r="1.3"/>
<circle class="gr" cx="620.7" cy="193.1" r="1.3"/>
<circle class="gr" cx="625.5" cy="194.6" r="1.3"/>
<circle class="gr" cx="617.3" cy="196.8" r="1.3"/>
<circle class="gr" cx="620.2" cy="200.1" r="1.3"/>
<circle class="gr" cx="622.0" cy="240.6" r="1.3"/>
<circle class="gr" cx="619.8" cy="242.4" r="1.3"/>
<circle class="gr" cx="617.3" cy="245.3" r="1.3"/>
<circle class="gr" cx="624.9" cy="245.6" r="1.3"/>
<circle class="gr" cx="620.4" cy="257.6" r="1.3"/>
<circle class="gr" cx="623.4" cy="259.0" r="1.3"/>
<circle class="gr" cx="624.9" cy="259.0" r="1.3"/>
<circle class="gr" cx="618.9" cy="278.1" r="1.3"/>
<circle class="gr" cx="627.8" cy="199.9" r="1.3"/>
<circle class="gr" cx="619.7" cy="209.4" r="1.3"/>
<circle class="gr" cx="624.6" cy="200.0" r="1.3"/>
<circle class="gr" cx="622.7" cy="202.4" r="1.3"/>
<circle class="gr" cx="621.8" cy="200.8" r="1.3"/>
<circle class="gr" cx="617.4" cy="211.9" r="1.3"/>
<circle class="gr" cx="620.6" cy="210.5" r="1.3"/>
<circle class="gr" cx="618.5" cy="205.6" r="1.3"/>
<circle class="gr" cx="618.7" cy="204.9" r="1.3"/>
<circle class="gr" cx="619.1" cy="208.1" r="1.3"/>
<circle class="gr" cx="618.8" cy="208.7" r="1.3"/>
<circle class="gr" cx="622.6" cy="200.9" r="1.3"/>
<circle class="gr" cx="621.0" cy="205.7" r="1.3"/>
<circle class="gr" cx="627.1" cy="203.9" r="1.3"/>
<circle class="gr" cx="619.5" cy="211.6" r="1.3"/>
<circle class="gr" cx="626.7" cy="208.6" r="1.3"/>
<circle class="gr" cx="620.1" cy="201.7" r="1.3"/>
<circle class="gr" cx="620.1" cy="200.4" r="1.3"/>
<circle class="gr" cx="617.7" cy="205.9" r="1.3"/>
<circle class="gr" cx="621.6" cy="206.5" r="1.3"/>
<circle class="gr" cx="621.4" cy="212.1" r="1.3"/>
<circle class="gr" cx="624.9" cy="217.9" r="1.3"/>
<circle class="gr" cx="623.4" cy="216.9" r="1.3"/>
<circle class="gr" cx="624.9" cy="220.8" r="1.3"/>
<circle class="gr" cx="626.9" cy="218.5" r="1.3"/>
<circle class="gr" cx="621.8" cy="214.9" r="1.3"/>
<circle class="gr" cx="622.0" cy="220.8" r="1.3"/>
<circle class="gr" cx="621.7" cy="215.5" r="1.3"/>
<circle class="gr" cx="621.9" cy="213.3" r="1.3"/>
<circle class="gr" cx="628.6" cy="221.1" r="1.3"/>
<circle class="gr" cx="624.1" cy="232.1" r="1.3"/>
<circle class="gr" cx="620.1" cy="228.3" r="1.3"/>
<circle class="gr" cx="621.5" cy="223.9" r="1.3"/>
<circle class="gr" cx="619.5" cy="222.4" r="1.3"/>
<circle class="gr" cx="626.8" cy="230.4" r="1.3"/>
<circle class="gr" cx="627.6" cy="221.6" r="1.3"/>
<circle class="gr" cx="625.1" cy="224.9" r="1.3"/>
<circle class="gr" cx="624.6" cy="227.6" r="1.3"/>
<circle class="gr" cx="620.8" cy="232.7" r="1.3"/>
<circle class="gr" cx="617.2" cy="230.0" r="1.3"/>
<circle class="gr" cx="626.9" cy="227.1" r="1.3"/>
<circle class="gr" cx="624.0" cy="232.9" r="1.3"/>
<circle class="gr" cx="619.9" cy="228.6" r="1.3"/>
<circle class="gr" cx="625.7" cy="225.5" r="1.3"/>
<circle class="gr" cx="625.3" cy="225.7" r="1.3"/>
<circle class="gr" cx="623.2" cy="228.4" r="1.3"/>
<circle class="gr" cx="624.9" cy="224.9" r="1.3"/>
<circle class="gr" cx="624.4" cy="227.5" r="1.3"/>
<circle class="gr" cx="619.7" cy="228.4" r="1.3"/>
<circle class="gr" cx="620.2" cy="231.9" r="1.3"/>
<circle class="gr" cx="622.6" cy="229.7" r="1.3"/>
<circle class="gr" cx="623.2" cy="226.7" r="1.3"/>
<circle class="gr" cx="619.7" cy="222.7" r="1.3"/>
<circle class="gr" cx="627.8" cy="227.3" r="1.3"/>
<circle class="gr" cx="623.2" cy="227.3" r="1.3"/>
<circle class="gr" cx="626.3" cy="234.0" r="1.3"/>
<circle class="gr" cx="619.3" cy="236.5" r="1.3"/>
<circle class="gr" cx="622.5" cy="235.7" r="1.3"/>
<circle class="gr" cx="626.5" cy="236.8" r="1.3"/>
<circle class="gr" cx="626.9" cy="233.2" r="1.3"/>
<circle class="gr" cx="621.6" cy="236.5" r="1.3"/>
<circle class="gr" cx="626.4" cy="233.5" r="1.3"/>
<circle class="gr" cx="619.1" cy="234.1" r="1.3"/>
<circle class="gr" cx="618.5" cy="234.5" r="1.3"/>
<circle class="gr" cx="626.2" cy="235.2" r="1.3"/>
<circle class="gr" cx="622.4" cy="233.4" r="1.3"/>
<circle class="gr" cx="621.8" cy="237.2" r="1.3"/>
<circle class="rd" cx="622.4" cy="214.0" r="1.3"/>
<circle class="rd" cx="625.3" cy="220.1" r="1.3"/>
<circle class="rd" cx="627.7" cy="226.8" r="1.3"/>
<circle class="rd" cx="624.5" cy="229.6" r="1.3"/>
<circle class="rd" cx="625.9" cy="232.0" r="1.3"/>
</g>
</svg></body></html>
